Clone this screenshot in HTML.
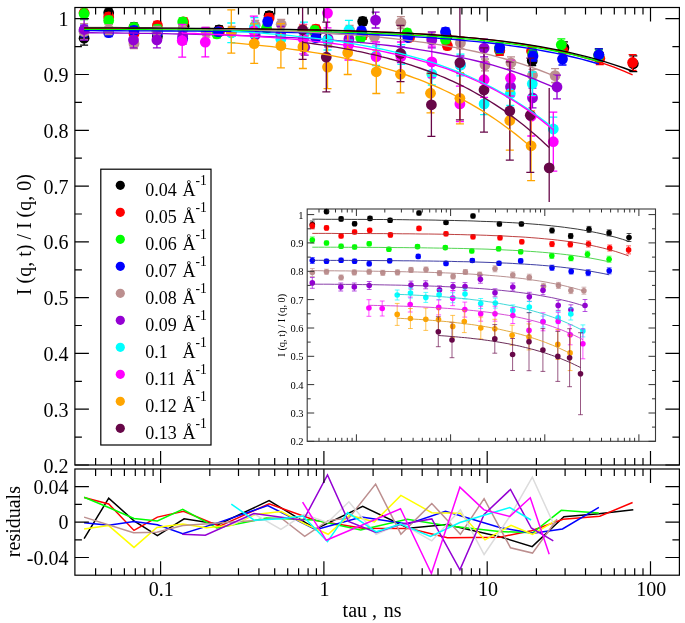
<!DOCTYPE html>
<html><head><meta charset="utf-8"><style>html,body{margin:0;padding:0;background:#fff;}svg{display:block;will-change:transform;filter:blur(0.3px);}text{font-family:"Liberation Serif",serif;-webkit-font-smoothing:antialiased;}</style></head>
<body><svg width="685" height="623" viewBox="0 0 685 623"><rect width="685" height="623" fill="#fff"/><clipPath id="mc"><rect x="74.9" y="7.5" width="604.5" height="457.5"/></clipPath><clipPath id="ic"><rect x="307.2" y="209.0" width="348.3" height="232.3"/></clipPath><g><path clip-path="url(#mc)" d="M84.1 31.3V45.1M80.1 31.3h8.0M80.1 45.1h8.0" stroke="#000000" stroke-width="1.3" fill="none"/><circle cx="84.1" cy="38.2" r="5.4" fill="#000000"/><path clip-path="url(#mc)" d="M108.7 8.9V16.7M104.7 8.9h8.0M104.7 16.7h8.0" stroke="#000000" stroke-width="1.3" fill="none"/><circle cx="108.7" cy="12.8" r="5.4" fill="#000000"/><path clip-path="url(#mc)" d="M134.0 23.2V31.1M130.0 23.2h8.0M130.0 31.1h8.0" stroke="#000000" stroke-width="1.3" fill="none"/><circle cx="134.0" cy="27.2" r="5.4" fill="#000000"/><path clip-path="url(#mc)" d="M157.4 32.7V40.6M153.4 32.7h8.0M153.4 40.6h8.0" stroke="#000000" stroke-width="1.3" fill="none"/><circle cx="157.4" cy="36.6" r="5.4" fill="#000000"/><path clip-path="url(#mc)" d="M184.1 22.2V30.1M180.1 22.2h8.0M180.1 30.1h8.0" stroke="#000000" stroke-width="1.3" fill="none"/><circle cx="184.1" cy="26.2" r="5.4" fill="#000000"/><path clip-path="url(#mc)" d="M219.0 26.0V33.9M215.0 26.0h8.0M215.0 33.9h8.0" stroke="#000000" stroke-width="1.3" fill="none"/><circle cx="219.0" cy="29.9" r="5.4" fill="#000000"/><path clip-path="url(#mc)" d="M269.1 11.6V19.5M265.1 11.6h8.0M265.1 19.5h8.0" stroke="#000000" stroke-width="1.3" fill="none"/><circle cx="269.1" cy="15.6" r="5.4" fill="#000000"/><path clip-path="url(#mc)" d="M315.9 30.3V38.2M311.9 30.3h8.0M311.9 38.2h8.0" stroke="#000000" stroke-width="1.3" fill="none"/><circle cx="315.9" cy="34.3" r="5.4" fill="#000000"/><path clip-path="url(#mc)" d="M362.7 17.5V25.4M358.7 17.5h8.0M358.7 25.4h8.0" stroke="#000000" stroke-width="1.3" fill="none"/><circle cx="362.7" cy="21.5" r="5.4" fill="#000000"/><path clip-path="url(#mc)" d="M408.5 33.3V41.1M404.5 33.3h8.0M404.5 41.1h8.0" stroke="#000000" stroke-width="1.3" fill="none"/><circle cx="408.5" cy="37.2" r="5.4" fill="#000000"/><path clip-path="url(#mc)" d="M446.7 33.3V41.1M442.7 33.3h8.0M442.7 41.1h8.0" stroke="#000000" stroke-width="1.3" fill="none"/><circle cx="446.7" cy="37.2" r="5.4" fill="#000000"/><path clip-path="url(#mc)" d="M499.7 45.1V54.9M495.7 45.1h8.0M495.7 54.9h8.0" stroke="#000000" stroke-width="1.3" fill="none"/><circle cx="499.7" cy="50.0" r="5.4" fill="#000000"/><path clip-path="url(#mc)" d="M532.2 55.9V65.7M528.2 55.9h8.0M528.2 65.7h8.0" stroke="#000000" stroke-width="1.3" fill="none"/><circle cx="532.2" cy="60.8" r="5.4" fill="#000000"/><path clip-path="url(#mc)" d="M563.9 41.9V53.7M559.9 41.9h8.0M559.9 53.7h8.0" stroke="#000000" stroke-width="1.3" fill="none"/><circle cx="563.9" cy="47.8" r="5.4" fill="#000000"/><path clip-path="url(#mc)" d="M598.8 48.8V60.6M594.8 48.8h8.0M594.8 60.6h8.0" stroke="#000000" stroke-width="1.3" fill="none"/><circle cx="598.8" cy="54.7" r="5.4" fill="#000000"/><path clip-path="url(#mc)" d="M633.3 55.9V71.7M629.3 55.9h8.0M629.3 71.7h8.0" stroke="#000000" stroke-width="1.3" fill="none"/><circle cx="633.3" cy="63.8" r="5.4" fill="#000000"/><path clip-path="url(#mc)" d="M84.1 6.8V18.7M80.1 6.8h8.0M80.1 18.7h8.0" stroke="#ff0000" stroke-width="1.3" fill="none"/><circle cx="84.1" cy="12.8" r="5.4" fill="#ff0000"/><path clip-path="url(#mc)" d="M108.7 13.0V20.8M104.7 13.0h8.0M104.7 20.8h8.0" stroke="#ff0000" stroke-width="1.3" fill="none"/><circle cx="108.7" cy="16.9" r="5.4" fill="#ff0000"/><path clip-path="url(#mc)" d="M134.0 29.7V37.6M130.0 29.7h8.0M130.0 37.6h8.0" stroke="#ff0000" stroke-width="1.3" fill="none"/><circle cx="134.0" cy="33.7" r="5.4" fill="#ff0000"/><path clip-path="url(#mc)" d="M157.4 21.5V29.3M153.4 21.5h8.0M153.4 29.3h8.0" stroke="#ff0000" stroke-width="1.3" fill="none"/><circle cx="157.4" cy="25.4" r="5.4" fill="#ff0000"/><path clip-path="url(#mc)" d="M183.6 17.9V25.8M179.6 17.9h8.0M179.6 25.8h8.0" stroke="#ff0000" stroke-width="1.3" fill="none"/><circle cx="183.6" cy="21.9" r="5.4" fill="#ff0000"/><path clip-path="url(#mc)" d="M219.5 27.5V35.3M215.5 27.5h8.0M215.5 35.3h8.0" stroke="#ff0000" stroke-width="1.3" fill="none"/><circle cx="219.5" cy="31.4" r="5.4" fill="#ff0000"/><path clip-path="url(#mc)" d="M269.1 14.0V21.9M265.1 14.0h8.0M265.1 21.9h8.0" stroke="#ff0000" stroke-width="1.3" fill="none"/><circle cx="269.1" cy="17.9" r="5.4" fill="#ff0000"/><path clip-path="url(#mc)" d="M315.9 25.2V33.1M311.9 25.2h8.0M311.9 33.1h8.0" stroke="#ff0000" stroke-width="1.3" fill="none"/><circle cx="315.9" cy="29.1" r="5.4" fill="#ff0000"/><path clip-path="url(#mc)" d="M362.7 31.4V39.3M358.7 31.4h8.0M358.7 39.3h8.0" stroke="#ff0000" stroke-width="1.3" fill="none"/><circle cx="362.7" cy="35.3" r="5.4" fill="#ff0000"/><path clip-path="url(#mc)" d="M409.6 33.5V41.3M405.6 33.5h8.0M405.6 41.3h8.0" stroke="#ff0000" stroke-width="1.3" fill="none"/><circle cx="409.6" cy="37.4" r="5.4" fill="#ff0000"/><path clip-path="url(#mc)" d="M447.4 41.8V49.6M443.4 41.8h8.0M443.4 49.6h8.0" stroke="#ff0000" stroke-width="1.3" fill="none"/><circle cx="447.4" cy="45.7" r="5.4" fill="#ff0000"/><path clip-path="url(#mc)" d="M499.7 45.5V55.4M495.7 45.5h8.0M495.7 55.4h8.0" stroke="#ff0000" stroke-width="1.3" fill="none"/><circle cx="499.7" cy="50.5" r="5.4" fill="#ff0000"/><path clip-path="url(#mc)" d="M531.5 46.2V56.0M527.5 46.2h8.0M527.5 56.0h8.0" stroke="#ff0000" stroke-width="1.3" fill="none"/><circle cx="531.5" cy="51.1" r="5.4" fill="#ff0000"/><path clip-path="url(#mc)" d="M563.0 44.4V56.2M559.0 44.4h8.0M559.0 56.2h8.0" stroke="#ff0000" stroke-width="1.3" fill="none"/><circle cx="563.0" cy="50.3" r="5.4" fill="#ff0000"/><path clip-path="url(#mc)" d="M599.8 52.6V64.5M595.8 52.6h8.0M595.8 64.5h8.0" stroke="#ff0000" stroke-width="1.3" fill="none"/><circle cx="599.8" cy="58.5" r="5.4" fill="#ff0000"/><path clip-path="url(#mc)" d="M632.6 54.6V70.4M628.6 54.6h8.0M628.6 70.4h8.0" stroke="#ff0000" stroke-width="1.3" fill="none"/><circle cx="632.6" cy="62.5" r="5.4" fill="#ff0000"/><path clip-path="url(#mc)" d="M84.1 7.9V19.7M80.1 7.9h8.0M80.1 19.7h8.0" stroke="#00ff00" stroke-width="1.3" fill="none"/><circle cx="84.1" cy="13.8" r="5.4" fill="#00ff00"/><path clip-path="url(#mc)" d="M108.7 16.4V24.3M104.7 16.4h8.0M104.7 24.3h8.0" stroke="#00ff00" stroke-width="1.3" fill="none"/><circle cx="108.7" cy="20.4" r="5.4" fill="#00ff00"/><path clip-path="url(#mc)" d="M134.0 23.4V31.3M130.0 23.4h8.0M130.0 31.3h8.0" stroke="#00ff00" stroke-width="1.3" fill="none"/><circle cx="134.0" cy="27.4" r="5.4" fill="#00ff00"/><path clip-path="url(#mc)" d="M157.4 25.2V33.0M153.4 25.2h8.0M153.4 33.0h8.0" stroke="#00ff00" stroke-width="1.3" fill="none"/><circle cx="157.4" cy="29.1" r="5.4" fill="#00ff00"/><path clip-path="url(#mc)" d="M182.7 18.0V25.8M178.7 18.0h8.0M178.7 25.8h8.0" stroke="#00ff00" stroke-width="1.3" fill="none"/><circle cx="182.7" cy="21.9" r="5.4" fill="#00ff00"/><path clip-path="url(#mc)" d="M216.9 30.0V37.8M212.9 30.0h8.0M212.9 37.8h8.0" stroke="#00ff00" stroke-width="1.3" fill="none"/><circle cx="216.9" cy="33.9" r="5.4" fill="#00ff00"/><path clip-path="url(#mc)" d="M266.5 24.3V32.2M262.5 24.3h8.0M262.5 32.2h8.0" stroke="#00ff00" stroke-width="1.3" fill="none"/><circle cx="266.5" cy="28.2" r="5.4" fill="#00ff00"/><path clip-path="url(#mc)" d="M314.7 26.5V34.3M310.7 26.5h8.0M310.7 34.3h8.0" stroke="#00ff00" stroke-width="1.3" fill="none"/><circle cx="314.7" cy="30.4" r="5.4" fill="#00ff00"/><path clip-path="url(#mc)" d="M360.7 33.9V41.8M356.7 33.9h8.0M356.7 41.8h8.0" stroke="#00ff00" stroke-width="1.3" fill="none"/><circle cx="360.7" cy="37.8" r="5.4" fill="#00ff00"/><path clip-path="url(#mc)" d="M407.1 29.1V37.0M403.1 29.1h8.0M403.1 37.0h8.0" stroke="#00ff00" stroke-width="1.3" fill="none"/><circle cx="407.1" cy="33.0" r="5.4" fill="#00ff00"/><path clip-path="url(#mc)" d="M445.5 35.4V43.3M441.5 35.4h8.0M441.5 43.3h8.0" stroke="#00ff00" stroke-width="1.3" fill="none"/><circle cx="445.5" cy="39.4" r="5.4" fill="#00ff00"/><path clip-path="url(#mc)" d="M499.4 43.4V53.2M495.4 43.4h8.0M495.4 53.2h8.0" stroke="#00ff00" stroke-width="1.3" fill="none"/><circle cx="499.4" cy="48.3" r="5.4" fill="#00ff00"/><path clip-path="url(#mc)" d="M532.7 48.8V58.7M528.7 48.8h8.0M528.7 58.7h8.0" stroke="#00ff00" stroke-width="1.3" fill="none"/><circle cx="532.7" cy="53.7" r="5.4" fill="#00ff00"/><path clip-path="url(#mc)" d="M561.3 38.9V50.7M557.3 38.9h8.0M557.3 50.7h8.0" stroke="#00ff00" stroke-width="1.3" fill="none"/><circle cx="561.3" cy="44.8" r="5.4" fill="#00ff00"/><path clip-path="url(#mc)" d="M598.8 49.8V61.6M594.8 49.8h8.0M594.8 61.6h8.0" stroke="#00ff00" stroke-width="1.3" fill="none"/><circle cx="598.8" cy="55.7" r="5.4" fill="#00ff00"/><path clip-path="url(#mc)" d="M84.1 25.1V36.9M80.1 25.1h8.0M80.1 36.9h8.0" stroke="#0000ff" stroke-width="1.3" fill="none"/><circle cx="84.1" cy="31.0" r="5.4" fill="#0000ff"/><path clip-path="url(#mc)" d="M108.7 28.7V36.6M104.7 28.7h8.0M104.7 36.6h8.0" stroke="#0000ff" stroke-width="1.3" fill="none"/><circle cx="108.7" cy="32.7" r="5.4" fill="#0000ff"/><path clip-path="url(#mc)" d="M134.0 26.4V34.3M130.0 26.4h8.0M130.0 34.3h8.0" stroke="#0000ff" stroke-width="1.3" fill="none"/><circle cx="134.0" cy="30.4" r="5.4" fill="#0000ff"/><path clip-path="url(#mc)" d="M157.4 28.7V36.6M153.4 28.7h8.0M153.4 36.6h8.0" stroke="#0000ff" stroke-width="1.3" fill="none"/><circle cx="157.4" cy="32.7" r="5.4" fill="#0000ff"/><path clip-path="url(#mc)" d="M182.7 34.5V42.3M178.7 34.5h8.0M178.7 42.3h8.0" stroke="#0000ff" stroke-width="1.3" fill="none"/><circle cx="182.7" cy="38.4" r="5.4" fill="#0000ff"/><path clip-path="url(#mc)" d="M218.3 27.8V35.7M214.3 27.8h8.0M214.3 35.7h8.0" stroke="#0000ff" stroke-width="1.3" fill="none"/><circle cx="218.3" cy="31.7" r="5.4" fill="#0000ff"/><path clip-path="url(#mc)" d="M267.7 17.7V25.6M263.7 17.7h8.0M263.7 25.6h8.0" stroke="#0000ff" stroke-width="1.3" fill="none"/><circle cx="267.7" cy="21.6" r="5.4" fill="#0000ff"/><path clip-path="url(#mc)" d="M315.9 33.8V41.6M311.9 33.8h8.0M311.9 41.6h8.0" stroke="#0000ff" stroke-width="1.3" fill="none"/><circle cx="315.9" cy="37.7" r="5.4" fill="#0000ff"/><path clip-path="url(#mc)" d="M361.5 27.1V35.0M357.5 27.1h8.0M357.5 35.0h8.0" stroke="#0000ff" stroke-width="1.3" fill="none"/><circle cx="361.5" cy="31.0" r="5.4" fill="#0000ff"/><path clip-path="url(#mc)" d="M407.8 33.5V41.4M403.8 33.5h8.0M403.8 41.4h8.0" stroke="#0000ff" stroke-width="1.3" fill="none"/><circle cx="407.8" cy="37.5" r="5.4" fill="#0000ff"/><path clip-path="url(#mc)" d="M445.5 28.0V35.9M441.5 28.0h8.0M441.5 35.9h8.0" stroke="#0000ff" stroke-width="1.3" fill="none"/><circle cx="445.5" cy="32.0" r="5.4" fill="#0000ff"/><path clip-path="url(#mc)" d="M499.7 42.7V52.5M495.7 42.7h8.0M495.7 52.5h8.0" stroke="#0000ff" stroke-width="1.3" fill="none"/><circle cx="499.7" cy="47.6" r="5.4" fill="#0000ff"/><path clip-path="url(#mc)" d="M533.0 51.2V61.0M529.0 51.2h8.0M529.0 61.0h8.0" stroke="#0000ff" stroke-width="1.3" fill="none"/><circle cx="533.0" cy="56.1" r="5.4" fill="#0000ff"/><path clip-path="url(#mc)" d="M562.5 53.2V65.0M558.5 53.2h8.0M558.5 65.0h8.0" stroke="#0000ff" stroke-width="1.3" fill="none"/><circle cx="562.5" cy="59.1" r="5.4" fill="#0000ff"/><path clip-path="url(#mc)" d="M598.9 48.8V60.6M594.9 48.8h8.0M594.9 60.6h8.0" stroke="#0000ff" stroke-width="1.3" fill="none"/><circle cx="598.9" cy="54.7" r="5.4" fill="#0000ff"/><path clip-path="url(#mc)" d="M84.1 23.7V39.5M80.1 23.7h8.0M80.1 39.5h8.0" stroke="#bc8f8f" stroke-width="1.3" fill="none"/><circle cx="84.1" cy="31.6" r="5.4" fill="#bc8f8f"/><path clip-path="url(#mc)" d="M108.7 24.7V34.6M104.7 24.7h8.0M104.7 34.6h8.0" stroke="#bc8f8f" stroke-width="1.3" fill="none"/><circle cx="108.7" cy="29.6" r="5.4" fill="#bc8f8f"/><path clip-path="url(#mc)" d="M134.0 38.7V48.6M130.0 38.7h8.0M130.0 48.6h8.0" stroke="#bc8f8f" stroke-width="1.3" fill="none"/><circle cx="134.0" cy="43.7" r="5.4" fill="#bc8f8f"/><path clip-path="url(#mc)" d="M156.9 26.4V36.3M152.9 26.4h8.0M152.9 36.3h8.0" stroke="#bc8f8f" stroke-width="1.3" fill="none"/><circle cx="156.9" cy="31.3" r="5.4" fill="#bc8f8f"/><path clip-path="url(#mc)" d="M182.7 24.7V34.6M178.7 24.7h8.0M178.7 34.6h8.0" stroke="#bc8f8f" stroke-width="1.3" fill="none"/><circle cx="182.7" cy="29.6" r="5.4" fill="#bc8f8f"/><path clip-path="url(#mc)" d="M206.3 27.4V37.2M202.3 27.4h8.0M202.3 37.2h8.0" stroke="#bc8f8f" stroke-width="1.3" fill="none"/><circle cx="206.3" cy="32.3" r="5.4" fill="#bc8f8f"/><path clip-path="url(#mc)" d="M231.8 26.4V36.3M227.8 26.4h8.0M227.8 36.3h8.0" stroke="#bc8f8f" stroke-width="1.3" fill="none"/><circle cx="231.8" cy="31.3" r="5.4" fill="#bc8f8f"/><path clip-path="url(#mc)" d="M255.2 20.4V30.2M251.2 20.4h8.0M251.2 30.2h8.0" stroke="#bc8f8f" stroke-width="1.3" fill="none"/><circle cx="255.2" cy="25.3" r="5.4" fill="#bc8f8f"/><path clip-path="url(#mc)" d="M281.2 19.4V29.3M277.2 19.4h8.0M277.2 29.3h8.0" stroke="#bc8f8f" stroke-width="1.3" fill="none"/><circle cx="281.2" cy="24.3" r="5.4" fill="#bc8f8f"/><path clip-path="url(#mc)" d="M304.7 28.1V38.0M300.7 28.1h8.0M300.7 38.0h8.0" stroke="#bc8f8f" stroke-width="1.3" fill="none"/><circle cx="304.7" cy="33.0" r="5.4" fill="#bc8f8f"/><path clip-path="url(#mc)" d="M328.2 36.1V45.9M324.2 36.1h8.0M324.2 45.9h8.0" stroke="#bc8f8f" stroke-width="1.3" fill="none"/><circle cx="328.2" cy="41.0" r="5.4" fill="#bc8f8f"/><path clip-path="url(#mc)" d="M349.6 25.5V35.3M345.6 25.5h8.0M345.6 35.3h8.0" stroke="#bc8f8f" stroke-width="1.3" fill="none"/><circle cx="349.6" cy="30.4" r="5.4" fill="#bc8f8f"/><path clip-path="url(#mc)" d="M374.4 31.7V41.6M370.4 31.7h8.0M370.4 41.6h8.0" stroke="#bc8f8f" stroke-width="1.3" fill="none"/><circle cx="374.4" cy="36.7" r="5.4" fill="#bc8f8f"/><path clip-path="url(#mc)" d="M400.9 16.7V28.5M396.9 16.7h8.0M396.9 28.5h8.0" stroke="#bc8f8f" stroke-width="1.3" fill="none"/><circle cx="400.9" cy="22.6" r="5.4" fill="#bc8f8f"/><path clip-path="url(#mc)" d="M431.8 31.7V43.5M427.8 31.7h8.0M427.8 43.5h8.0" stroke="#bc8f8f" stroke-width="1.3" fill="none"/><circle cx="431.8" cy="37.6" r="5.4" fill="#bc8f8f"/><path clip-path="url(#mc)" d="M460.4 37.0V48.8M456.4 37.0h8.0M456.4 48.8h8.0" stroke="#bc8f8f" stroke-width="1.3" fill="none"/><circle cx="460.4" cy="42.9" r="5.4" fill="#bc8f8f"/><path clip-path="url(#mc)" d="M485.0 59.0V70.8M481.0 59.0h8.0M481.0 70.8h8.0" stroke="#bc8f8f" stroke-width="1.3" fill="none"/><circle cx="485.0" cy="64.9" r="5.4" fill="#bc8f8f"/><path clip-path="url(#mc)" d="M511.0 56.9V68.7M507.0 56.9h8.0M507.0 68.7h8.0" stroke="#bc8f8f" stroke-width="1.3" fill="none"/><circle cx="511.0" cy="62.8" r="5.4" fill="#bc8f8f"/><path clip-path="url(#mc)" d="M532.5 69.4V81.2M528.5 69.4h8.0M528.5 81.2h8.0" stroke="#bc8f8f" stroke-width="1.3" fill="none"/><circle cx="532.5" cy="75.3" r="5.4" fill="#bc8f8f"/><path clip-path="url(#mc)" d="M555.1 68.7V82.5M551.1 68.7h8.0M551.1 82.5h8.0" stroke="#bc8f8f" stroke-width="1.3" fill="none"/><circle cx="555.1" cy="75.6" r="5.4" fill="#bc8f8f"/><path clip-path="url(#mc)" d="M84.1 18.9V40.1M80.1 18.9h8.0M80.1 40.1h8.0" stroke="#9400d3" stroke-width="1.3" fill="none"/><circle cx="84.1" cy="29.5" r="5.4" fill="#9400d3"/><path clip-path="url(#mc)" d="M133.5 32.1V47.8M129.5 32.1h8.0M129.5 47.8h8.0" stroke="#9400d3" stroke-width="1.3" fill="none"/><circle cx="133.5" cy="39.9" r="5.4" fill="#9400d3"/><path clip-path="url(#mc)" d="M156.9 32.1V47.8M152.9 32.1h8.0M152.9 47.8h8.0" stroke="#9400d3" stroke-width="1.3" fill="none"/><circle cx="156.9" cy="39.9" r="5.4" fill="#9400d3"/><path clip-path="url(#mc)" d="M182.7 28.3V44.0M178.7 28.3h8.0M178.7 44.0h8.0" stroke="#9400d3" stroke-width="1.3" fill="none"/><circle cx="182.7" cy="36.1" r="5.4" fill="#9400d3"/><path clip-path="url(#mc)" d="M255.2 27.2V43.0M251.2 27.2h8.0M251.2 43.0h8.0" stroke="#9400d3" stroke-width="1.3" fill="none"/><circle cx="255.2" cy="35.1" r="5.4" fill="#9400d3"/><path clip-path="url(#mc)" d="M280.7 26.5V42.2M276.7 26.5h8.0M276.7 42.2h8.0" stroke="#9400d3" stroke-width="1.3" fill="none"/><circle cx="280.7" cy="34.3" r="5.4" fill="#9400d3"/><path clip-path="url(#mc)" d="M304.7 39.4V55.2M300.7 39.4h8.0M300.7 55.2h8.0" stroke="#9400d3" stroke-width="1.3" fill="none"/><circle cx="304.7" cy="47.3" r="5.4" fill="#9400d3"/><path clip-path="url(#mc)" d="M328.1 31.0V46.8M324.1 31.0h8.0M324.1 46.8h8.0" stroke="#9400d3" stroke-width="1.3" fill="none"/><circle cx="328.1" cy="38.9" r="5.4" fill="#9400d3"/><path clip-path="url(#mc)" d="M348.9 31.0V46.8M344.9 31.0h8.0M344.9 46.8h8.0" stroke="#9400d3" stroke-width="1.3" fill="none"/><circle cx="348.9" cy="38.9" r="5.4" fill="#9400d3"/><path clip-path="url(#mc)" d="M375.6 12.2V28.0M371.6 12.2h8.0M371.6 28.0h8.0" stroke="#9400d3" stroke-width="1.3" fill="none"/><circle cx="375.6" cy="20.1" r="5.4" fill="#9400d3"/><path clip-path="url(#mc)" d="M400.9 46.8V62.6M396.9 46.8h8.0M396.9 62.6h8.0" stroke="#9400d3" stroke-width="1.3" fill="none"/><circle cx="400.9" cy="54.7" r="5.4" fill="#9400d3"/><path clip-path="url(#mc)" d="M431.8 32.1V47.8M427.8 32.1h8.0M427.8 47.8h8.0" stroke="#9400d3" stroke-width="1.3" fill="none"/><circle cx="431.8" cy="39.9" r="5.4" fill="#9400d3"/><path clip-path="url(#mc)" d="M460.4 56.0V73.7M456.4 56.0h8.0M456.4 73.7h8.0" stroke="#9400d3" stroke-width="1.3" fill="none"/><circle cx="460.4" cy="64.9" r="5.4" fill="#9400d3"/><path clip-path="url(#mc)" d="M484.1 39.2V56.9M480.1 39.2h8.0M480.1 56.9h8.0" stroke="#9400d3" stroke-width="1.3" fill="none"/><circle cx="484.1" cy="48.1" r="5.4" fill="#9400d3"/><path clip-path="url(#mc)" d="M510.5 76.9V96.6M506.5 76.9h8.0M506.5 96.6h8.0" stroke="#9400d3" stroke-width="1.3" fill="none"/><circle cx="510.5" cy="86.7" r="5.4" fill="#9400d3"/><path clip-path="url(#mc)" d="M532.5 88.1V107.8M528.5 88.1h8.0M528.5 107.8h8.0" stroke="#9400d3" stroke-width="1.3" fill="none"/><circle cx="532.5" cy="97.9" r="5.4" fill="#9400d3"/><path clip-path="url(#mc)" d="M557.0 75.2V98.8M553.0 75.2h8.0M553.0 98.8h8.0" stroke="#9400d3" stroke-width="1.3" fill="none"/><circle cx="557.0" cy="87.0" r="5.4" fill="#9400d3"/><path clip-path="url(#mc)" d="M231.3 23.0V42.7M227.3 23.0h8.0M227.3 42.7h8.0" stroke="#00ffff" stroke-width="1.3" fill="none"/><circle cx="231.3" cy="32.9" r="5.4" fill="#00ffff"/><path clip-path="url(#mc)" d="M254.4 17.7V37.4M250.4 17.7h8.0M250.4 37.4h8.0" stroke="#00ffff" stroke-width="1.3" fill="none"/><circle cx="254.4" cy="27.5" r="5.4" fill="#00ffff"/><path clip-path="url(#mc)" d="M280.9 29.5V49.2M276.9 29.5h8.0M276.9 49.2h8.0" stroke="#00ffff" stroke-width="1.3" fill="none"/><circle cx="280.9" cy="39.3" r="5.4" fill="#00ffff"/><path clip-path="url(#mc)" d="M304.0 22.2V41.9M300.0 22.2h8.0M300.0 41.9h8.0" stroke="#00ffff" stroke-width="1.3" fill="none"/><circle cx="304.0" cy="32.1" r="5.4" fill="#00ffff"/><path clip-path="url(#mc)" d="M327.5 30.3V50.0M323.5 30.3h8.0M323.5 50.0h8.0" stroke="#00ffff" stroke-width="1.3" fill="none"/><circle cx="327.5" cy="40.1" r="5.4" fill="#00ffff"/><path clip-path="url(#mc)" d="M348.9 20.4V40.1M344.9 20.4h8.0M344.9 40.1h8.0" stroke="#00ffff" stroke-width="1.3" fill="none"/><circle cx="348.9" cy="30.2" r="5.4" fill="#00ffff"/><path clip-path="url(#mc)" d="M376.1 45.8V65.5M372.1 45.8h8.0M372.1 65.5h8.0" stroke="#00ffff" stroke-width="1.3" fill="none"/><circle cx="376.1" cy="55.7" r="5.4" fill="#00ffff"/><path clip-path="url(#mc)" d="M401.4 44.7V64.4M397.4 44.7h8.0M397.4 64.4h8.0" stroke="#00ffff" stroke-width="1.3" fill="none"/><circle cx="401.4" cy="54.6" r="5.4" fill="#00ffff"/><path clip-path="url(#mc)" d="M431.8 63.3V85.0M427.8 63.3h8.0M427.8 85.0h8.0" stroke="#00ffff" stroke-width="1.3" fill="none"/><circle cx="431.8" cy="74.1" r="5.4" fill="#00ffff"/><path clip-path="url(#mc)" d="M460.4 54.2V75.9M456.4 54.2h8.0M456.4 75.9h8.0" stroke="#00ffff" stroke-width="1.3" fill="none"/><circle cx="460.4" cy="65.0" r="5.4" fill="#00ffff"/><path clip-path="url(#mc)" d="M484.1 93.0V114.7M480.1 93.0h8.0M480.1 114.7h8.0" stroke="#00ffff" stroke-width="1.3" fill="none"/><circle cx="484.1" cy="103.9" r="5.4" fill="#00ffff"/><path clip-path="url(#mc)" d="M510.3 81.9V105.5M506.3 81.9h8.0M506.3 105.5h8.0" stroke="#00ffff" stroke-width="1.3" fill="none"/><circle cx="510.3" cy="93.7" r="5.4" fill="#00ffff"/><path clip-path="url(#mc)" d="M532.3 72.0V95.6M528.3 72.0h8.0M528.3 95.6h8.0" stroke="#00ffff" stroke-width="1.3" fill="none"/><circle cx="532.3" cy="83.8" r="5.4" fill="#00ffff"/><path clip-path="url(#mc)" d="M553.3 117.2V140.9M549.3 117.2h8.0M549.3 140.9h8.0" stroke="#00ffff" stroke-width="1.3" fill="none"/><circle cx="553.3" cy="129.0" r="5.4" fill="#00ffff"/><path clip-path="url(#mc)" d="M182.2 24.4V57.1M178.2 24.4h8.0M178.2 57.1h8.0" stroke="#ff00ff" stroke-width="1.3" fill="none"/><circle cx="182.2" cy="40.7" r="5.4" fill="#ff00ff"/><path clip-path="url(#mc)" d="M205.3 27.4V56.9M201.3 27.4h8.0M201.3 56.9h8.0" stroke="#ff00ff" stroke-width="1.3" fill="none"/><circle cx="205.3" cy="42.1" r="5.4" fill="#ff00ff"/><path clip-path="url(#mc)" d="M253.8 16.1V45.6M249.8 16.1h8.0M249.8 45.6h8.0" stroke="#ff00ff" stroke-width="1.3" fill="none"/><circle cx="253.8" cy="30.9" r="5.4" fill="#ff00ff"/><path clip-path="url(#mc)" d="M303.3 24.3V53.8M299.3 24.3h8.0M299.3 53.8h8.0" stroke="#ff00ff" stroke-width="1.3" fill="none"/><circle cx="303.3" cy="39.0" r="5.4" fill="#ff00ff"/><path clip-path="url(#mc)" d="M327.5 -1.7V27.9M323.5 -1.7h8.0M323.5 27.9h8.0" stroke="#ff00ff" stroke-width="1.3" fill="none"/><circle cx="327.5" cy="13.1" r="5.4" fill="#ff00ff"/><path clip-path="url(#mc)" d="M348.5 30.5V60.0M344.5 30.5h8.0M344.5 60.0h8.0" stroke="#ff00ff" stroke-width="1.3" fill="none"/><circle cx="348.5" cy="45.2" r="5.4" fill="#ff00ff"/><path clip-path="url(#mc)" d="M376.1 42.0V71.6M372.1 42.0h8.0M372.1 71.6h8.0" stroke="#ff00ff" stroke-width="1.3" fill="none"/><circle cx="376.1" cy="56.8" r="5.4" fill="#ff00ff"/><path clip-path="url(#mc)" d="M400.9 42.0V71.6M396.9 42.0h8.0M396.9 71.6h8.0" stroke="#ff00ff" stroke-width="1.3" fill="none"/><circle cx="400.9" cy="56.8" r="5.4" fill="#ff00ff"/><path clip-path="url(#mc)" d="M431.8 46.1V77.6M427.8 46.1h8.0M427.8 77.6h8.0" stroke="#ff00ff" stroke-width="1.3" fill="none"/><circle cx="431.8" cy="61.9" r="5.4" fill="#ff00ff"/><path clip-path="url(#mc)" d="M459.9 86.2V121.6M455.9 86.2h8.0M455.9 121.6h8.0" stroke="#ff00ff" stroke-width="1.3" fill="none"/><circle cx="459.9" cy="103.9" r="5.4" fill="#ff00ff"/><path clip-path="url(#mc)" d="M484.1 61.9V97.4M480.1 61.9h8.0M480.1 97.4h8.0" stroke="#ff00ff" stroke-width="1.3" fill="none"/><circle cx="484.1" cy="79.7" r="5.4" fill="#ff00ff"/><path clip-path="url(#mc)" d="M510.5 60.5V96.0M506.5 60.5h8.0M506.5 96.0h8.0" stroke="#ff00ff" stroke-width="1.3" fill="none"/><circle cx="510.5" cy="78.2" r="5.4" fill="#ff00ff"/><path clip-path="url(#mc)" d="M531.3 96.6V136.0M527.3 96.6h8.0M527.3 136.0h8.0" stroke="#ff00ff" stroke-width="1.3" fill="none"/><circle cx="531.3" cy="116.3" r="5.4" fill="#ff00ff"/><path clip-path="url(#mc)" d="M553.3 112.2V171.2M549.3 112.2h8.0M549.3 171.2h8.0" stroke="#ff00ff" stroke-width="1.3" fill="none"/><circle cx="553.3" cy="141.7" r="5.4" fill="#ff00ff"/><path clip-path="url(#mc)" d="M231.3 9.8V53.1M227.3 9.8h8.0M227.3 53.1h8.0" stroke="#ffa500" stroke-width="1.3" fill="none"/><circle cx="231.3" cy="31.5" r="5.4" fill="#ffa500"/><path clip-path="url(#mc)" d="M254.2 23.9V63.3M250.2 23.9h8.0M250.2 63.3h8.0" stroke="#ffa500" stroke-width="1.3" fill="none"/><circle cx="254.2" cy="43.6" r="5.4" fill="#ffa500"/><path clip-path="url(#mc)" d="M280.9 23.7V67.8M276.9 23.7h8.0M276.9 67.8h8.0" stroke="#ffa500" stroke-width="1.3" fill="none"/><circle cx="280.9" cy="45.7" r="5.4" fill="#ffa500"/><path clip-path="url(#mc)" d="M302.9 25.2V68.5M298.9 25.2h8.0M298.9 68.5h8.0" stroke="#ffa500" stroke-width="1.3" fill="none"/><circle cx="302.9" cy="46.9" r="5.4" fill="#ffa500"/><path clip-path="url(#mc)" d="M327.5 45.4V88.7M323.5 45.4h8.0M323.5 88.7h8.0" stroke="#ffa500" stroke-width="1.3" fill="none"/><circle cx="327.5" cy="67.1" r="5.4" fill="#ffa500"/><path clip-path="url(#mc)" d="M347.7 31.2V74.5M343.7 31.2h8.0M343.7 74.5h8.0" stroke="#ffa500" stroke-width="1.3" fill="none"/><circle cx="347.7" cy="52.8" r="5.4" fill="#ffa500"/><path clip-path="url(#mc)" d="M376.3 50.2V93.5M372.3 50.2h8.0M372.3 93.5h8.0" stroke="#ffa500" stroke-width="1.3" fill="none"/><circle cx="376.3" cy="71.8" r="5.4" fill="#ffa500"/><path clip-path="url(#mc)" d="M400.5 55.5V92.9M396.5 55.5h8.0M396.5 92.9h8.0" stroke="#ffa500" stroke-width="1.3" fill="none"/><circle cx="400.5" cy="74.2" r="5.4" fill="#ffa500"/><path clip-path="url(#mc)" d="M430.5 73.5V112.9M426.5 73.5h8.0M426.5 112.9h8.0" stroke="#ffa500" stroke-width="1.3" fill="none"/><circle cx="430.5" cy="93.2" r="5.4" fill="#ffa500"/><path clip-path="url(#mc)" d="M459.9 72.7V123.8M455.9 72.7h8.0M455.9 123.8h8.0" stroke="#ffa500" stroke-width="1.3" fill="none"/><circle cx="459.9" cy="98.3" r="5.4" fill="#ffa500"/><path clip-path="url(#mc)" d="M509.8 91.0V150.1M505.8 91.0h8.0M505.8 150.1h8.0" stroke="#ffa500" stroke-width="1.3" fill="none"/><circle cx="509.8" cy="120.5" r="5.4" fill="#ffa500"/><path clip-path="url(#mc)" d="M531.1 110.9V180.6M527.1 110.9h8.0M527.1 180.6h8.0" stroke="#ffa500" stroke-width="1.3" fill="none"/><circle cx="531.1" cy="145.8" r="5.4" fill="#ffa500"/><path clip-path="url(#mc)" d="M302.6 0.3V59.3M298.6 0.3h8.0M298.6 59.3h8.0" stroke="#670748" stroke-width="1.3" fill="none"/><circle cx="302.6" cy="29.8" r="5.4" fill="#670748"/><path clip-path="url(#mc)" d="M326.3 22.2V91.9M322.3 22.2h8.0M322.3 91.9h8.0" stroke="#670748" stroke-width="1.3" fill="none"/><circle cx="326.3" cy="57.1" r="5.4" fill="#670748"/><path clip-path="url(#mc)" d="M400.5 25.3V81.6M396.5 25.3h8.0M396.5 81.6h8.0" stroke="#670748" stroke-width="1.3" fill="none"/><circle cx="400.5" cy="53.5" r="5.4" fill="#670748"/><path clip-path="url(#mc)" d="M431.4 73.3V136.3M427.4 73.3h8.0M427.4 136.3h8.0" stroke="#670748" stroke-width="1.3" fill="none"/><circle cx="431.4" cy="104.8" r="5.4" fill="#670748"/><path clip-path="url(#mc)" d="M459.9 5.6V119.8M455.9 5.6h8.0M455.9 119.8h8.0" stroke="#670748" stroke-width="1.3" fill="none"/><circle cx="459.9" cy="62.7" r="5.4" fill="#670748"/><path clip-path="url(#mc)" d="M484.0 47.8V132.1M480.0 47.8h8.0M480.0 132.1h8.0" stroke="#670748" stroke-width="1.3" fill="none"/><circle cx="484.0" cy="90.0" r="5.4" fill="#670748"/><path clip-path="url(#mc)" d="M509.8 61.8V160.2M505.8 61.8h8.0M505.8 160.2h8.0" stroke="#670748" stroke-width="1.3" fill="none"/><circle cx="509.8" cy="111.0" r="5.4" fill="#670748"/><path clip-path="url(#mc)" d="M530.3 58.2V172.4M526.3 58.2h8.0M526.3 172.4h8.0" stroke="#670748" stroke-width="1.3" fill="none"/><circle cx="530.3" cy="115.3" r="5.4" fill="#670748"/><path clip-path="url(#mc)" d="M549.2 87.9V201.9" stroke="#670748" stroke-width="1.3"/><circle cx="549.2" cy="167.9" r="5.4" fill="#670748"/></g><path d="M84.1 28.3 L93.4 28.3 L102.7 28.3 L112.0 28.4 L121.3 28.4 L130.6 28.4 L139.9 28.5 L149.1 28.5 L158.4 28.5 L167.7 28.6 L177.0 28.6 L186.3 28.7 L195.6 28.7 L204.9 28.8 L214.2 28.8 L223.5 28.9 L232.8 29.0 L242.1 29.1 L251.4 29.2 L260.7 29.3 L270.0 29.4 L279.3 29.5 L288.6 29.7 L297.9 29.8 L307.2 30.0 L316.5 30.2 L325.8 30.4 L335.1 30.6 L344.4 30.9 L353.7 31.1 L363.0 31.4 L372.3 31.7 L381.6 32.1 L390.9 32.5 L400.2 32.9 L409.5 33.4 L418.7 33.9 L428.0 34.4 L437.3 35.1 L446.6 35.7 L455.9 36.5 L465.2 37.3 L474.5 38.1 L483.8 39.1 L493.1 40.2 L502.4 41.3 L511.7 42.6 L521.0 44.0 L530.3 45.5 L539.6 47.1 L548.9 48.9 L558.2 50.9 L567.5 53.1 L576.8 55.4 L586.1 58.0 L595.4 60.8 L604.7 63.9 L614.0 67.2 L623.3 70.9 L632.6 74.8" stroke="#ff0000" stroke-width="1.35" fill="none"/><path d="M84.1 29.5 L92.8 29.5 L101.5 29.5 L110.2 29.6 L119.0 29.6 L127.7 29.6 L136.4 29.7 L145.1 29.7 L153.9 29.8 L162.6 29.8 L171.3 29.9 L180.0 29.9 L188.8 30.0 L197.5 30.0 L206.2 30.1 L214.9 30.2 L223.6 30.3 L232.4 30.3 L241.1 30.4 L249.8 30.5 L258.5 30.7 L267.3 30.8 L276.0 30.9 L284.7 31.1 L293.4 31.2 L302.2 31.4 L310.9 31.6 L319.6 31.8 L328.3 32.0 L337.1 32.2 L345.8 32.4 L354.5 32.7 L363.2 33.0 L371.9 33.3 L380.7 33.7 L389.4 34.0 L398.1 34.4 L406.8 34.9 L415.6 35.3 L424.3 35.8 L433.0 36.4 L441.7 37.0 L450.5 37.6 L459.2 38.3 L467.9 39.1 L476.6 39.9 L485.4 40.8 L494.1 41.8 L502.8 42.8 L511.5 43.9 L520.2 45.1 L529.0 46.4 L537.7 47.8 L546.4 49.4 L555.1 51.0 L563.9 52.8 L572.6 54.7 L581.3 56.8 L590.0 59.0 L598.8 61.4" stroke="#00ff00" stroke-width="1.35" fill="none"/><path d="M84.1 30.6 L92.8 30.7 L101.5 30.7 L110.3 30.7 L119.0 30.7 L127.7 30.8 L136.4 30.8 L145.2 30.9 L153.9 30.9 L162.6 31.0 L171.3 31.0 L180.1 31.1 L188.8 31.1 L197.5 31.2 L206.2 31.3 L215.0 31.4 L223.7 31.4 L232.4 31.5 L241.1 31.6 L249.9 31.7 L258.6 31.9 L267.3 32.0 L276.1 32.1 L284.8 32.3 L293.5 32.5 L302.2 32.6 L311.0 32.8 L319.7 33.0 L328.4 33.3 L337.1 33.5 L345.9 33.8 L354.6 34.0 L363.3 34.4 L372.0 34.7 L380.8 35.0 L389.5 35.4 L398.2 35.9 L406.9 36.3 L415.7 36.8 L424.4 37.3 L433.1 37.9 L441.9 38.6 L450.6 39.2 L459.3 40.0 L468.0 40.8 L476.8 41.6 L485.5 42.5 L494.2 43.5 L502.9 44.6 L511.7 45.8 L520.4 47.0 L529.1 48.4 L537.8 49.9 L546.6 51.5 L555.3 53.2 L564.0 55.0 L572.7 57.0 L581.5 59.2 L590.2 61.5 L598.9 64.0" stroke="#0000ff" stroke-width="1.35" fill="none"/><path d="M84.1 27.3 L92.1 27.3 L100.0 27.4 L108.0 27.5 L116.0 27.5 L124.0 27.6 L132.0 27.7 L140.0 27.8 L147.9 27.9 L155.9 28.0 L163.9 28.1 L171.9 28.2 L179.9 28.3 L187.8 28.4 L195.8 28.6 L203.8 28.7 L211.8 28.9 L219.8 29.1 L227.8 29.3 L235.7 29.5 L243.7 29.7 L251.7 29.9 L259.7 30.2 L267.7 30.5 L275.7 30.8 L283.6 31.1 L291.6 31.4 L299.6 31.8 L307.6 32.2 L315.6 32.6 L323.6 33.0 L331.5 33.5 L339.5 34.0 L347.5 34.6 L355.5 35.2 L363.5 35.8 L371.5 36.5 L379.4 37.2 L387.4 38.0 L395.4 38.9 L403.4 39.8 L411.4 40.8 L419.3 41.8 L427.3 42.9 L435.3 44.1 L443.3 45.4 L451.3 46.8 L459.3 48.2 L467.2 49.8 L475.2 51.5 L483.2 53.3 L491.2 55.2 L499.2 57.3 L507.2 59.5 L515.1 61.9 L523.1 64.4 L531.1 67.1 L539.1 70.0 L547.1 73.1 L555.1 76.4" stroke="#bc8f8f" stroke-width="1.35" fill="none"/><path d="M84.1 32.7 L92.1 32.7 L100.1 32.8 L108.1 32.9 L116.1 33.0 L124.1 33.1 L132.2 33.2 L140.2 33.3 L148.2 33.4 L156.2 33.5 L164.2 33.7 L172.2 33.8 L180.3 34.0 L188.3 34.1 L196.3 34.3 L204.3 34.5 L212.3 34.7 L220.3 34.9 L228.3 35.1 L236.4 35.4 L244.4 35.7 L252.4 35.9 L260.4 36.3 L268.4 36.6 L276.4 36.9 L284.5 37.3 L292.5 37.7 L300.5 38.2 L308.5 38.6 L316.5 39.1 L324.5 39.6 L332.5 40.2 L340.6 40.8 L348.6 41.5 L356.6 42.2 L364.6 42.9 L372.6 43.7 L380.6 44.6 L388.6 45.5 L396.7 46.5 L404.7 47.5 L412.7 48.7 L420.7 49.9 L428.7 51.2 L436.7 52.5 L444.8 54.0 L452.8 55.6 L460.8 57.3 L468.8 59.1 L476.8 61.0 L484.8 63.0 L492.8 65.2 L500.9 67.6 L508.9 70.0 L516.9 72.7 L524.9 75.5 L532.9 78.5 L540.9 81.8 L548.9 85.2 L557.0 88.8" stroke="#9400d3" stroke-width="1.35" fill="none"/><path d="M231.3 31.1 L236.8 31.5 L242.2 31.8 L247.7 32.2 L253.1 32.5 L258.6 32.9 L264.0 33.3 L269.5 33.8 L275.0 34.2 L280.4 34.7 L285.9 35.2 L291.3 35.7 L296.8 36.3 L302.3 36.8 L307.7 37.5 L313.2 38.1 L318.6 38.7 L324.1 39.4 L329.5 40.2 L335.0 40.9 L340.5 41.7 L345.9 42.6 L351.4 43.4 L356.8 44.4 L362.3 45.3 L367.7 46.3 L373.2 47.4 L378.7 48.5 L384.1 49.7 L389.6 50.9 L395.0 52.1 L400.5 53.5 L406.0 54.9 L411.4 56.3 L416.9 57.8 L422.3 59.4 L427.8 61.1 L433.2 62.9 L438.7 64.7 L444.2 66.6 L449.6 68.6 L455.1 70.7 L460.5 72.8 L466.0 75.1 L471.5 77.5 L476.9 80.0 L482.4 82.6 L487.8 85.3 L493.3 88.1 L498.7 91.1 L504.2 94.1 L509.7 97.3 L515.1 100.7 L520.6 104.2 L526.0 107.8 L531.5 111.6 L536.9 115.5 L542.4 119.6 L547.9 123.8 L553.3 128.2" stroke="#00ffff" stroke-width="1.35" fill="none"/><path d="M182.2 33.1 L188.5 33.3 L194.8 33.5 L201.1 33.8 L207.4 34.0 L213.7 34.3 L220.0 34.5 L226.3 34.8 L232.5 35.1 L238.8 35.5 L245.1 35.8 L251.4 36.2 L257.7 36.6 L264.0 37.0 L270.3 37.4 L276.6 37.9 L282.9 38.4 L289.2 38.9 L295.4 39.4 L301.7 40.0 L308.0 40.6 L314.3 41.3 L320.6 42.0 L326.9 42.7 L333.2 43.5 L339.5 44.3 L345.8 45.2 L352.0 46.1 L358.3 47.1 L364.6 48.2 L370.9 49.3 L377.2 50.4 L383.5 51.7 L389.8 53.0 L396.1 54.4 L402.4 55.8 L408.7 57.4 L414.9 59.0 L421.2 60.8 L427.5 62.6 L433.8 64.5 L440.1 66.6 L446.4 68.7 L452.7 71.0 L459.0 73.4 L465.3 76.0 L471.6 78.7 L477.8 81.5 L484.1 84.5 L490.4 87.6 L496.7 91.0 L503.0 94.5 L509.3 98.1 L515.6 102.0 L521.9 106.1 L528.2 110.4 L534.5 114.9 L540.7 119.6 L547.0 124.6 L553.3 129.8" stroke="#ff00ff" stroke-width="1.35" fill="none"/><path d="M231.3 42.8 L236.4 43.2 L241.5 43.7 L246.5 44.1 L251.6 44.6 L256.7 45.1 L261.8 45.6 L266.9 46.2 L272.0 46.7 L277.0 47.3 L282.1 47.9 L287.2 48.6 L292.3 49.3 L297.4 50.0 L302.4 50.7 L307.5 51.5 L312.6 52.3 L317.7 53.1 L322.8 54.0 L327.9 54.9 L332.9 55.8 L338.0 56.8 L343.1 57.8 L348.2 58.9 L353.3 60.0 L358.3 61.2 L363.4 62.4 L368.5 63.7 L373.6 65.0 L378.7 66.4 L383.8 67.8 L388.8 69.3 L393.9 70.9 L399.0 72.5 L404.1 74.2 L409.2 76.0 L414.2 77.8 L419.3 79.7 L424.4 81.7 L429.5 83.8 L434.6 85.9 L439.7 88.2 L444.7 90.5 L449.8 92.9 L454.9 95.5 L460.0 98.1 L465.1 100.8 L470.1 103.6 L475.2 106.6 L480.3 109.6 L485.4 112.8 L490.5 116.1 L495.6 119.5 L500.6 123.0 L505.7 126.7 L510.8 130.5 L515.9 134.4 L521.0 138.5 L526.0 142.7 L531.1 147.1" stroke="#ffa500" stroke-width="1.35" fill="none"/><path d="M302.6 42.3 L306.8 42.8 L310.9 43.4 L315.1 44.0 L319.3 44.6 L323.5 45.2 L327.6 45.8 L331.8 46.5 L336.0 47.2 L340.2 47.9 L344.4 48.7 L348.5 49.4 L352.7 50.2 L356.9 51.1 L361.1 51.9 L365.3 52.8 L369.4 53.8 L373.6 54.7 L377.8 55.7 L382.0 56.8 L386.2 57.8 L390.3 59.0 L394.5 60.1 L398.7 61.3 L402.9 62.6 L407.1 63.8 L411.2 65.2 L415.4 66.6 L419.6 68.0 L423.8 69.5 L428.0 71.0 L432.1 72.6 L436.3 74.2 L440.5 76.0 L444.7 77.7 L448.9 79.6 L453.0 81.4 L457.2 83.4 L461.4 85.4 L465.6 87.5 L469.7 89.7 L473.9 92.0 L478.1 94.3 L482.3 96.7 L486.5 99.2 L490.6 101.7 L494.8 104.4 L499.0 107.1 L503.2 109.9 L507.4 112.9 L511.5 115.9 L515.7 119.0 L519.9 122.2 L524.1 125.5 L528.3 128.9 L532.4 132.5 L536.6 136.1 L540.8 139.8 L545.0 143.7 L549.2 147.6" stroke="#670748" stroke-width="1.35" fill="none"/><path d="M84.1 27.8 L93.4 27.8 L102.7 27.9 L112.0 27.9 L121.3 27.9 L130.6 28.0 L139.9 28.0 L149.2 28.0 L158.5 28.1 L167.8 28.1 L177.2 28.2 L186.5 28.3 L195.8 28.3 L205.1 28.4 L214.4 28.5 L223.7 28.6 L233.0 28.7 L242.3 28.8 L251.6 28.9 L260.9 29.0 L270.2 29.1 L279.5 29.3 L288.9 29.4 L298.2 29.6 L307.5 29.8 L316.8 30.0 L326.1 30.2 L335.4 30.5 L344.7 30.7 L354.0 31.0 L363.3 31.3 L372.6 31.7 L381.9 32.1 L391.2 32.5 L400.6 32.9 L409.9 33.4 L419.2 33.9 L428.5 34.5 L437.8 35.1 L447.1 35.8 L456.4 36.5 L465.7 37.3 L475.0 38.1 L484.3 39.1 L493.6 40.1 L502.9 41.2 L512.3 42.4 L521.6 43.7 L530.9 45.1 L540.2 46.7 L549.5 48.4 L558.8 50.2 L568.1 52.2 L577.4 54.3 L586.7 56.6 L596.0 59.2 L605.3 61.9 L614.6 64.8 L624.0 68.0 L633.3 71.5" stroke="#000000" stroke-width="1.35" fill="none"/><clipPath id="rc"><rect x="74.9" y="469.0" width="604.5" height="106.20000000000005"/></clipPath><g clip-path="url(#rc)"><path d="M84.1 538.6 L108.7 498.2 L134.0 520.8 L157.4 535.6 L184.1 518.8 L219.0 524.3 L269.1 500.6 L315.9 528.9 L362.7 506.4 L408.5 528.3 L446.7 524.5 L499.7 536.7 L532.2 546.6 L563.9 516.7 L598.8 513.8 L633.3 509.8" stroke="#000000" stroke-width="1.5" fill="none" stroke-linejoin="miter"/><path d="M84.1 497.4 L108.7 503.9 L134.0 530.4 L157.4 517.1 L183.6 511.3 L219.5 526.1 L269.1 503.9 L315.9 520.4 L362.7 528.3 L409.6 528.5 L447.4 537.8 L499.7 537.2 L531.5 530.7 L563.0 519.3 L599.8 516.2 L632.6 502.5" stroke="#ff0000" stroke-width="1.5" fill="none" stroke-linejoin="miter"/><path d="M84.1 497.3 L108.7 507.5 L134.0 518.4 L157.4 521.0 L182.7 509.4 L216.9 528.0 L266.5 518.1 L314.7 520.1 L360.7 529.9 L407.1 519.2 L445.5 525.4 L499.4 531.5 L532.7 532.8 L561.3 510.3 L598.8 513.0" stroke="#00ff00" stroke-width="1.5" fill="none" stroke-linejoin="miter"/><path d="M84.1 522.8 L108.7 525.2 L134.0 521.4 L157.4 524.8 L182.7 533.7 L218.3 522.6 L267.7 505.6 L315.9 529.7 L361.5 517.0 L407.8 523.9 L445.5 511.2 L499.7 527.5 L533.0 533.3 L562.5 529.0 L598.9 507.4" stroke="#0000ff" stroke-width="1.5" fill="none" stroke-linejoin="miter"/><path d="M84.1 528.9 L108.7 525.6 L134.0 547.4 L156.9 527.4 L182.7 524.1 L206.3 527.7 L231.8 525.2 L255.2 514.5 L281.2 511.5 L304.7 523.7 L328.2 534.3 L349.6 515.2 L374.4 521.9 L400.9 495.4 L431.8 512.7 L460.4 513.3 L485.0 539.9 L511.0 525.4 L532.5 534.3 L555.1 520.8" stroke="#ffff00" stroke-width="1.5" fill="none" stroke-linejoin="miter"/><path d="M84.1 517.1 L133.5 532.8 L156.9 532.3 L182.7 525.5 L255.2 520.6 L280.7 517.7 L304.7 536.3 L328.1 520.6 L348.9 518.0 L375.6 484.1 L400.9 534.2 L431.8 503.5 L460.4 534.3 L484.1 498.7 L510.5 547.8 L532.5 553.1 L557.0 519.2" stroke="#bc8f8f" stroke-width="1.5" fill="none" stroke-linejoin="miter"/><path d="M231.3 524.9 L254.4 514.0 L280.9 529.4 L304.0 514.3 L327.5 522.5 L348.9 501.8 L376.1 534.3 L401.4 523.5 L431.8 540.8 L460.4 509.8 L484.1 554.5 L510.3 515.7 L532.3 477.1 L553.3 523.4" stroke="#dcdcdc" stroke-width="1.5" fill="none" stroke-linejoin="miter"/><path d="M182.2 534.2 L205.3 535.2 L253.8 513.5 L303.3 520.3 L327.5 475.0 L348.5 521.5 L376.1 532.5 L400.9 524.2 L431.8 518.9 L459.9 569.9 L484.1 514.4 L510.5 489.4 L531.3 528.0 L553.3 540.9" stroke="#9400d3" stroke-width="1.5" fill="none" stroke-linejoin="miter"/><path d="M231.3 504.1 L254.2 520.2 L280.9 518.8 L302.9 516.0 L327.5 541.6 L347.7 512.6 L376.3 531.8 L400.5 524.0 L430.5 536.4 L459.9 522.5 L509.8 507.5 L531.1 520.0" stroke="#00ffff" stroke-width="1.5" fill="none" stroke-linejoin="miter"/><path d="M302.6 502.2 L326.3 540.3 L400.5 508.8 L431.4 573.6 L459.9 487.2 L484.0 509.9 L509.8 516.4 L530.3 497.8 L549.2 554.2" stroke="#ff00ff" stroke-width="1.5" fill="none" stroke-linejoin="miter"/></g><rect x="74.9" y="7.5" width="604.5" height="457.5" fill="none" stroke="#000" stroke-width="1.2"/><rect x="74.9" y="469.0" width="604.5" height="106.20000000000005" fill="none" stroke="#000" stroke-width="1.2"/><path d="M95.6 7.5v7.0M111.4 7.5v7.0M124.4 7.5v7.0M135.3 7.5v7.0M144.8 7.5v7.0M153.1 7.5v7.0M160.6 7.5v14.0M209.8 7.5v7.0M238.5 7.5v7.0M258.9 7.5v7.0M274.7 7.5v7.0M287.7 7.5v7.0M298.6 7.5v7.0M308.1 7.5v7.0M316.4 7.5v7.0M323.9 7.5v14.0M373.1 7.5v7.0M401.8 7.5v7.0M422.2 7.5v7.0M438.0 7.5v7.0M451.0 7.5v7.0M461.9 7.5v7.0M471.4 7.5v7.0M479.7 7.5v7.0M487.2 7.5v14.0M536.4 7.5v7.0M565.1 7.5v7.0M585.5 7.5v7.0M601.3 7.5v7.0M614.3 7.5v7.0M625.2 7.5v7.0M634.7 7.5v7.0M643.0 7.5v7.0M650.5 7.5v14.0M95.6 465.0v-7.0M111.4 465.0v-7.0M124.4 465.0v-7.0M135.3 465.0v-7.0M144.8 465.0v-7.0M153.1 465.0v-7.0M160.6 465.0v-14.0M209.8 465.0v-7.0M238.5 465.0v-7.0M258.9 465.0v-7.0M274.7 465.0v-7.0M287.7 465.0v-7.0M298.6 465.0v-7.0M308.1 465.0v-7.0M316.4 465.0v-7.0M323.9 465.0v-14.0M373.1 465.0v-7.0M401.8 465.0v-7.0M422.2 465.0v-7.0M438.0 465.0v-7.0M451.0 465.0v-7.0M461.9 465.0v-7.0M471.4 465.0v-7.0M479.7 465.0v-7.0M487.2 465.0v-14.0M536.4 465.0v-7.0M565.1 465.0v-7.0M585.5 465.0v-7.0M601.3 465.0v-7.0M614.3 465.0v-7.0M625.2 465.0v-7.0M634.7 465.0v-7.0M643.0 465.0v-7.0M650.5 465.0v-14.0M95.6 469.0v7.0M111.4 469.0v7.0M124.4 469.0v7.0M135.3 469.0v7.0M144.8 469.0v7.0M153.1 469.0v7.0M160.6 469.0v14.0M209.8 469.0v7.0M238.5 469.0v7.0M258.9 469.0v7.0M274.7 469.0v7.0M287.7 469.0v7.0M298.6 469.0v7.0M308.1 469.0v7.0M316.4 469.0v7.0M323.9 469.0v14.0M373.1 469.0v7.0M401.8 469.0v7.0M422.2 469.0v7.0M438.0 469.0v7.0M451.0 469.0v7.0M461.9 469.0v7.0M471.4 469.0v7.0M479.7 469.0v7.0M487.2 469.0v14.0M536.4 469.0v7.0M565.1 469.0v7.0M585.5 469.0v7.0M601.3 469.0v7.0M614.3 469.0v7.0M625.2 469.0v7.0M634.7 469.0v7.0M643.0 469.0v7.0M650.5 469.0v14.0M95.6 575.2v-7.0M111.4 575.2v-7.0M124.4 575.2v-7.0M135.3 575.2v-7.0M144.8 575.2v-7.0M153.1 575.2v-7.0M160.6 575.2v-14.0M209.8 575.2v-7.0M238.5 575.2v-7.0M258.9 575.2v-7.0M274.7 575.2v-7.0M287.7 575.2v-7.0M298.6 575.2v-7.0M308.1 575.2v-7.0M316.4 575.2v-7.0M323.9 575.2v-14.0M373.1 575.2v-7.0M401.8 575.2v-7.0M422.2 575.2v-7.0M438.0 575.2v-7.0M451.0 575.2v-7.0M461.9 575.2v-7.0M471.4 575.2v-7.0M479.7 575.2v-7.0M487.2 575.2v-14.0M536.4 575.2v-7.0M565.1 575.2v-7.0M585.5 575.2v-7.0M601.3 575.2v-7.0M614.3 575.2v-7.0M625.2 575.2v-7.0M634.7 575.2v-7.0M643.0 575.2v-7.0M650.5 575.2v-14.0M74.9 465.0h14M679.4 465.0h-14M74.9 437.1h7M679.4 437.1h-7M74.9 409.2h14M679.4 409.2h-14M74.9 381.3h7M679.4 381.3h-7M74.9 353.4h14M679.4 353.4h-14M74.9 325.5h7M679.4 325.5h-7M74.9 297.6h14M679.4 297.6h-14M74.9 269.8h7M679.4 269.8h-7M74.9 241.9h14M679.4 241.9h-14M74.9 214.0h7M679.4 214.0h-7M74.9 186.1h14M679.4 186.1h-14M74.9 158.2h7M679.4 158.2h-7M74.9 130.3h14M679.4 130.3h-14M74.9 102.4h7M679.4 102.4h-7M74.9 74.5h14M679.4 74.5h-14M74.9 46.6h7M679.4 46.6h-7M74.9 18.7h14M679.4 18.7h-14M74.9 557.5h14M679.4 557.5h-14M74.9 539.8h7M679.4 539.8h-7M74.9 522.1h14M679.4 522.1h-14M74.9 504.4h7M679.4 504.4h-7M74.9 486.7h14M679.4 486.7h-14" stroke="#000" stroke-width="1.2" fill="none"/><g font-family="Liberation Serif" font-size="20" fill="#000"><text x="68.4" y="472.5" text-anchor="end">0.2</text><text x="68.4" y="416.7" text-anchor="end">0.3</text><text x="68.4" y="360.9" text-anchor="end">0.4</text><text x="68.4" y="305.1" text-anchor="end">0.5</text><text x="68.4" y="249.4" text-anchor="end">0.6</text><text x="68.4" y="193.6" text-anchor="end">0.7</text><text x="68.4" y="137.8" text-anchor="end">0.8</text><text x="68.4" y="82.0" text-anchor="end">0.9</text><text x="68.4" y="26.2" text-anchor="end">1</text><text x="68.4" y="494.0" text-anchor="end">0.04</text><text x="68.4" y="529.4" text-anchor="end">0</text><text x="68.4" y="564.8" text-anchor="end">-0.04</text><text x="161.3" y="596" text-anchor="middle">0.1</text><text x="324.6" y="596" text-anchor="middle">1</text><text x="487.9" y="596" text-anchor="middle">10</text><text x="651.2" y="596" text-anchor="middle">100</text><text x="342.6" y="617">tau ,</text><text x="383.8" y="617">ns</text><text transform="translate(31.2 234.6) rotate(-90)" text-anchor="middle">I (q, t) / I (q, 0)</text><text transform="translate(20.3 521.6) rotate(-90)" text-anchor="middle">residuals</text></g><rect x="100.8" y="169.2" width="110.2" height="275.8" fill="#fff" stroke="#000" stroke-width="1.2"/><g font-family="Liberation Serif" font-size="18" fill="#000"><circle cx="120.3" cy="185.3" r="4.6" fill="#000000"/><text x="145.2" y="196.3">0.04</text><text x="182.5" y="196.3">Å</text><text x="195.5" y="184.8" font-size="13.6">-1</text><circle cx="120.3" cy="212.3" r="4.6" fill="#ff0000"/><text x="145.2" y="223.3">0.05</text><text x="182.5" y="223.3">Å</text><text x="195.5" y="211.8" font-size="13.6">-1</text><circle cx="120.3" cy="239.3" r="4.6" fill="#00ff00"/><text x="145.2" y="250.3">0.06</text><text x="182.5" y="250.3">Å</text><text x="195.5" y="238.8" font-size="13.6">-1</text><circle cx="120.3" cy="266.3" r="4.6" fill="#0000ff"/><text x="145.2" y="277.3">0.07</text><text x="182.5" y="277.3">Å</text><text x="195.5" y="265.8" font-size="13.6">-1</text><circle cx="120.3" cy="293.3" r="4.6" fill="#bc8f8f"/><text x="145.2" y="304.3">0.08</text><text x="182.5" y="304.3">Å</text><text x="195.5" y="292.8" font-size="13.6">-1</text><circle cx="120.3" cy="320.3" r="4.6" fill="#9400d3"/><text x="145.2" y="331.3">0.09</text><text x="182.5" y="331.3">Å</text><text x="195.5" y="319.8" font-size="13.6">-1</text><circle cx="120.3" cy="347.3" r="4.6" fill="#00ffff"/><text x="145.2" y="358.3">0.1</text><text x="182.5" y="358.3">Å</text><text x="195.5" y="346.8" font-size="13.6">-1</text><circle cx="120.3" cy="374.3" r="4.6" fill="#ff00ff"/><text x="145.2" y="385.3">0.11</text><text x="182.5" y="385.3">Å</text><text x="195.5" y="373.8" font-size="13.6">-1</text><circle cx="120.3" cy="401.3" r="4.6" fill="#ffa500"/><text x="145.2" y="412.3">0.12</text><text x="182.5" y="412.3">Å</text><text x="195.5" y="400.8" font-size="13.6">-1</text><circle cx="120.3" cy="428.3" r="4.6" fill="#670748"/><text x="145.2" y="439.3">0.13</text><text x="182.5" y="439.3">Å</text><text x="195.5" y="427.8" font-size="13.6">-1</text></g><rect x="307.2" y="209.0" width="348.3" height="232.3" fill="#fff" stroke="#3a3a3a" stroke-width="1.1"/><g><path clip-path="url(#ic)" d="M312.3 221.0V228.0M309.9 221.0h4.8M309.9 228.0h4.8" stroke="#000000" stroke-width="0.9" fill="none" stroke-opacity="0.75"/><circle cx="312.3" cy="224.5" r="2.8" fill="#000000"/><path clip-path="url(#ic)" d="M326.5 209.6V213.6M324.1 209.6h4.8M324.1 213.6h4.8" stroke="#000000" stroke-width="0.9" fill="none" stroke-opacity="0.75"/><circle cx="326.5" cy="211.6" r="2.8" fill="#000000"/><path clip-path="url(#ic)" d="M341.1 216.9V220.9M338.7 216.9h4.8M338.7 220.9h4.8" stroke="#000000" stroke-width="0.9" fill="none" stroke-opacity="0.75"/><circle cx="341.1" cy="218.9" r="2.8" fill="#000000"/><path clip-path="url(#ic)" d="M354.6 221.7V225.7M352.2 221.7h4.8M352.2 225.7h4.8" stroke="#000000" stroke-width="0.9" fill="none" stroke-opacity="0.75"/><circle cx="354.6" cy="223.7" r="2.8" fill="#000000"/><path clip-path="url(#ic)" d="M370.0 216.4V220.4M367.6 216.4h4.8M367.6 220.4h4.8" stroke="#000000" stroke-width="0.9" fill="none" stroke-opacity="0.75"/><circle cx="370.0" cy="218.4" r="2.8" fill="#000000"/><path clip-path="url(#ic)" d="M390.1 218.3V222.3M387.7 218.3h4.8M387.7 222.3h4.8" stroke="#000000" stroke-width="0.9" fill="none" stroke-opacity="0.75"/><circle cx="390.1" cy="220.3" r="2.8" fill="#000000"/><path clip-path="url(#ic)" d="M419.0 211.0V215.0M416.6 211.0h4.8M416.6 215.0h4.8" stroke="#000000" stroke-width="0.9" fill="none" stroke-opacity="0.75"/><circle cx="419.0" cy="213.0" r="2.8" fill="#000000"/><path clip-path="url(#ic)" d="M446.0 220.5V224.5M443.6 220.5h4.8M443.6 224.5h4.8" stroke="#000000" stroke-width="0.9" fill="none" stroke-opacity="0.75"/><circle cx="446.0" cy="222.5" r="2.8" fill="#000000"/><path clip-path="url(#ic)" d="M473.0 214.0V218.0M470.6 214.0h4.8M470.6 218.0h4.8" stroke="#000000" stroke-width="0.9" fill="none" stroke-opacity="0.75"/><circle cx="473.0" cy="216.0" r="2.8" fill="#000000"/><path clip-path="url(#ic)" d="M499.4 222.0V226.0M497.0 222.0h4.8M497.0 226.0h4.8" stroke="#000000" stroke-width="0.9" fill="none" stroke-opacity="0.75"/><circle cx="499.4" cy="224.0" r="2.8" fill="#000000"/><path clip-path="url(#ic)" d="M521.4 222.0V226.0M519.0 222.0h4.8M519.0 226.0h4.8" stroke="#000000" stroke-width="0.9" fill="none" stroke-opacity="0.75"/><circle cx="521.4" cy="224.0" r="2.8" fill="#000000"/><path clip-path="url(#ic)" d="M552.0 228.0V233.0M549.6 228.0h4.8M549.6 233.0h4.8" stroke="#000000" stroke-width="0.9" fill="none" stroke-opacity="0.75"/><circle cx="552.0" cy="230.5" r="2.8" fill="#000000"/><path clip-path="url(#ic)" d="M570.7 233.5V238.5M568.3 233.5h4.8M568.3 238.5h4.8" stroke="#000000" stroke-width="0.9" fill="none" stroke-opacity="0.75"/><circle cx="570.7" cy="236.0" r="2.8" fill="#000000"/><path clip-path="url(#ic)" d="M589.0 226.4V232.4M586.6 226.4h4.8M586.6 232.4h4.8" stroke="#000000" stroke-width="0.9" fill="none" stroke-opacity="0.75"/><circle cx="589.0" cy="229.4" r="2.8" fill="#000000"/><path clip-path="url(#ic)" d="M609.1 229.9V235.9M606.7 229.9h4.8M606.7 235.9h4.8" stroke="#000000" stroke-width="0.9" fill="none" stroke-opacity="0.75"/><circle cx="609.1" cy="232.9" r="2.8" fill="#000000"/><path clip-path="url(#ic)" d="M629.0 233.5V241.5M626.6 233.5h4.8M626.6 241.5h4.8" stroke="#000000" stroke-width="0.9" fill="none" stroke-opacity="0.75"/><circle cx="629.0" cy="237.5" r="2.8" fill="#000000"/><path clip-path="url(#ic)" d="M312.3 222.9V228.9M309.9 222.9h4.8M309.9 228.9h4.8" stroke="#ff0000" stroke-width="0.9" fill="none" stroke-opacity="0.75"/><circle cx="312.3" cy="225.9" r="2.8" fill="#ff0000"/><path clip-path="url(#ic)" d="M326.5 225.9V229.9M324.1 225.9h4.8M324.1 229.9h4.8" stroke="#ff0000" stroke-width="0.9" fill="none" stroke-opacity="0.75"/><circle cx="326.5" cy="227.9" r="2.8" fill="#ff0000"/><path clip-path="url(#ic)" d="M341.1 234.0V238.0M338.7 234.0h4.8M338.7 238.0h4.8" stroke="#ff0000" stroke-width="0.9" fill="none" stroke-opacity="0.75"/><circle cx="341.1" cy="236.0" r="2.8" fill="#ff0000"/><path clip-path="url(#ic)" d="M354.6 230.0V234.0M352.2 230.0h4.8M352.2 234.0h4.8" stroke="#ff0000" stroke-width="0.9" fill="none" stroke-opacity="0.75"/><circle cx="354.6" cy="232.0" r="2.8" fill="#ff0000"/><path clip-path="url(#ic)" d="M369.7 228.3V232.3M367.3 228.3h4.8M367.3 232.3h4.8" stroke="#ff0000" stroke-width="0.9" fill="none" stroke-opacity="0.75"/><circle cx="369.7" cy="230.3" r="2.8" fill="#ff0000"/><path clip-path="url(#ic)" d="M390.4 232.9V236.9M388.0 232.9h4.8M388.0 236.9h4.8" stroke="#ff0000" stroke-width="0.9" fill="none" stroke-opacity="0.75"/><circle cx="390.4" cy="234.9" r="2.8" fill="#ff0000"/><path clip-path="url(#ic)" d="M419.0 226.4V230.4M416.6 226.4h4.8M416.6 230.4h4.8" stroke="#ff0000" stroke-width="0.9" fill="none" stroke-opacity="0.75"/><circle cx="419.0" cy="228.4" r="2.8" fill="#ff0000"/><path clip-path="url(#ic)" d="M446.0 231.8V235.8M443.6 231.8h4.8M443.6 235.8h4.8" stroke="#ff0000" stroke-width="0.9" fill="none" stroke-opacity="0.75"/><circle cx="446.0" cy="233.8" r="2.8" fill="#ff0000"/><path clip-path="url(#ic)" d="M473.0 234.8V238.8M470.6 234.8h4.8M470.6 238.8h4.8" stroke="#ff0000" stroke-width="0.9" fill="none" stroke-opacity="0.75"/><circle cx="473.0" cy="236.8" r="2.8" fill="#ff0000"/><path clip-path="url(#ic)" d="M500.0 235.8V239.8M497.6 235.8h4.8M497.6 239.8h4.8" stroke="#ff0000" stroke-width="0.9" fill="none" stroke-opacity="0.75"/><circle cx="500.0" cy="237.8" r="2.8" fill="#ff0000"/><path clip-path="url(#ic)" d="M521.8 239.8V243.8M519.4 239.8h4.8M519.4 243.8h4.8" stroke="#ff0000" stroke-width="0.9" fill="none" stroke-opacity="0.75"/><circle cx="521.8" cy="241.8" r="2.8" fill="#ff0000"/><path clip-path="url(#ic)" d="M552.0 241.6V246.6M549.6 241.6h4.8M549.6 246.6h4.8" stroke="#ff0000" stroke-width="0.9" fill="none" stroke-opacity="0.75"/><circle cx="552.0" cy="244.1" r="2.8" fill="#ff0000"/><path clip-path="url(#ic)" d="M570.3 241.9V246.9M567.9 241.9h4.8M567.9 246.9h4.8" stroke="#ff0000" stroke-width="0.9" fill="none" stroke-opacity="0.75"/><circle cx="570.3" cy="244.4" r="2.8" fill="#ff0000"/><path clip-path="url(#ic)" d="M588.5 241.0V247.0M586.1 241.0h4.8M586.1 247.0h4.8" stroke="#ff0000" stroke-width="0.9" fill="none" stroke-opacity="0.75"/><circle cx="588.5" cy="244.0" r="2.8" fill="#ff0000"/><path clip-path="url(#ic)" d="M609.7 245.0V251.0M607.3 245.0h4.8M607.3 251.0h4.8" stroke="#ff0000" stroke-width="0.9" fill="none" stroke-opacity="0.75"/><circle cx="609.7" cy="248.0" r="2.8" fill="#ff0000"/><path clip-path="url(#ic)" d="M628.6 245.9V253.9M626.2 245.9h4.8M626.2 253.9h4.8" stroke="#ff0000" stroke-width="0.9" fill="none" stroke-opacity="0.75"/><circle cx="628.6" cy="249.9" r="2.8" fill="#ff0000"/><path clip-path="url(#ic)" d="M312.3 237.0V243.0M309.9 237.0h4.8M309.9 243.0h4.8" stroke="#00ff00" stroke-width="0.9" fill="none" stroke-opacity="0.75"/><circle cx="312.3" cy="240.0" r="2.8" fill="#00ff00"/><path clip-path="url(#ic)" d="M326.5 241.0V245.0M324.1 241.0h4.8M324.1 245.0h4.8" stroke="#00ff00" stroke-width="0.9" fill="none" stroke-opacity="0.75"/><circle cx="326.5" cy="243.0" r="2.8" fill="#00ff00"/><path clip-path="url(#ic)" d="M341.1 244.2V248.2M338.7 244.2h4.8M338.7 248.2h4.8" stroke="#00ff00" stroke-width="0.9" fill="none" stroke-opacity="0.75"/><circle cx="341.1" cy="246.2" r="2.8" fill="#00ff00"/><path clip-path="url(#ic)" d="M354.6 245.0V249.0M352.2 245.0h4.8M352.2 249.0h4.8" stroke="#00ff00" stroke-width="0.9" fill="none" stroke-opacity="0.75"/><circle cx="354.6" cy="247.0" r="2.8" fill="#00ff00"/><path clip-path="url(#ic)" d="M369.2 241.7V245.7M366.8 241.7h4.8M366.8 245.7h4.8" stroke="#00ff00" stroke-width="0.9" fill="none" stroke-opacity="0.75"/><circle cx="369.2" cy="243.7" r="2.8" fill="#00ff00"/><path clip-path="url(#ic)" d="M388.9 247.2V251.2M386.5 247.2h4.8M386.5 251.2h4.8" stroke="#00ff00" stroke-width="0.9" fill="none" stroke-opacity="0.75"/><circle cx="388.9" cy="249.2" r="2.8" fill="#00ff00"/><path clip-path="url(#ic)" d="M417.5 244.6V248.6M415.1 244.6h4.8M415.1 248.6h4.8" stroke="#00ff00" stroke-width="0.9" fill="none" stroke-opacity="0.75"/><circle cx="417.5" cy="246.6" r="2.8" fill="#00ff00"/><path clip-path="url(#ic)" d="M445.3 245.6V249.6M442.9 245.6h4.8M442.9 249.6h4.8" stroke="#00ff00" stroke-width="0.9" fill="none" stroke-opacity="0.75"/><circle cx="445.3" cy="247.6" r="2.8" fill="#00ff00"/><path clip-path="url(#ic)" d="M471.8 249.0V253.0M469.4 249.0h4.8M469.4 253.0h4.8" stroke="#00ff00" stroke-width="0.9" fill="none" stroke-opacity="0.75"/><circle cx="471.8" cy="251.0" r="2.8" fill="#00ff00"/><path clip-path="url(#ic)" d="M498.6 246.8V250.8M496.2 246.8h4.8M496.2 250.8h4.8" stroke="#00ff00" stroke-width="0.9" fill="none" stroke-opacity="0.75"/><circle cx="498.6" cy="248.8" r="2.8" fill="#00ff00"/><path clip-path="url(#ic)" d="M520.7 249.7V253.7M518.3 249.7h4.8M518.3 253.7h4.8" stroke="#00ff00" stroke-width="0.9" fill="none" stroke-opacity="0.75"/><circle cx="520.7" cy="251.7" r="2.8" fill="#00ff00"/><path clip-path="url(#ic)" d="M551.8 253.3V258.3M549.4 253.3h4.8M549.4 258.3h4.8" stroke="#00ff00" stroke-width="0.9" fill="none" stroke-opacity="0.75"/><circle cx="551.8" cy="255.8" r="2.8" fill="#00ff00"/><path clip-path="url(#ic)" d="M571.0 255.8V260.8M568.6 255.8h4.8M568.6 260.8h4.8" stroke="#00ff00" stroke-width="0.9" fill="none" stroke-opacity="0.75"/><circle cx="571.0" cy="258.3" r="2.8" fill="#00ff00"/><path clip-path="url(#ic)" d="M587.5 251.2V257.2M585.1 251.2h4.8M585.1 257.2h4.8" stroke="#00ff00" stroke-width="0.9" fill="none" stroke-opacity="0.75"/><circle cx="587.5" cy="254.2" r="2.8" fill="#00ff00"/><path clip-path="url(#ic)" d="M609.1 256.2V262.2M606.7 256.2h4.8M606.7 262.2h4.8" stroke="#00ff00" stroke-width="0.9" fill="none" stroke-opacity="0.75"/><circle cx="609.1" cy="259.2" r="2.8" fill="#00ff00"/><path clip-path="url(#ic)" d="M312.3 257.5V263.5M309.9 257.5h4.8M309.9 263.5h4.8" stroke="#0000ff" stroke-width="0.9" fill="none" stroke-opacity="0.75"/><circle cx="312.3" cy="260.5" r="2.8" fill="#0000ff"/><path clip-path="url(#ic)" d="M326.5 259.2V263.2M324.1 259.2h4.8M324.1 263.2h4.8" stroke="#0000ff" stroke-width="0.9" fill="none" stroke-opacity="0.75"/><circle cx="326.5" cy="261.2" r="2.8" fill="#0000ff"/><path clip-path="url(#ic)" d="M341.1 258.2V262.2M338.7 258.2h4.8M338.7 262.2h4.8" stroke="#0000ff" stroke-width="0.9" fill="none" stroke-opacity="0.75"/><circle cx="341.1" cy="260.2" r="2.8" fill="#0000ff"/><path clip-path="url(#ic)" d="M354.6 259.2V263.2M352.2 259.2h4.8M352.2 263.2h4.8" stroke="#0000ff" stroke-width="0.9" fill="none" stroke-opacity="0.75"/><circle cx="354.6" cy="261.2" r="2.8" fill="#0000ff"/><path clip-path="url(#ic)" d="M369.2 261.7V265.7M366.8 261.7h4.8M366.8 265.7h4.8" stroke="#0000ff" stroke-width="0.9" fill="none" stroke-opacity="0.75"/><circle cx="369.2" cy="263.7" r="2.8" fill="#0000ff"/><path clip-path="url(#ic)" d="M389.7 258.8V262.8M387.3 258.8h4.8M387.3 262.8h4.8" stroke="#0000ff" stroke-width="0.9" fill="none" stroke-opacity="0.75"/><circle cx="389.7" cy="260.8" r="2.8" fill="#0000ff"/><path clip-path="url(#ic)" d="M418.2 254.4V258.4M415.8 254.4h4.8M415.8 258.4h4.8" stroke="#0000ff" stroke-width="0.9" fill="none" stroke-opacity="0.75"/><circle cx="418.2" cy="256.4" r="2.8" fill="#0000ff"/><path clip-path="url(#ic)" d="M446.0 261.4V265.4M443.6 261.4h4.8M443.6 265.4h4.8" stroke="#0000ff" stroke-width="0.9" fill="none" stroke-opacity="0.75"/><circle cx="446.0" cy="263.4" r="2.8" fill="#0000ff"/><path clip-path="url(#ic)" d="M472.3 258.5V262.5M469.9 258.5h4.8M469.9 262.5h4.8" stroke="#0000ff" stroke-width="0.9" fill="none" stroke-opacity="0.75"/><circle cx="472.3" cy="260.5" r="2.8" fill="#0000ff"/><path clip-path="url(#ic)" d="M499.0 261.3V265.3M496.6 261.3h4.8M496.6 265.3h4.8" stroke="#0000ff" stroke-width="0.9" fill="none" stroke-opacity="0.75"/><circle cx="499.0" cy="263.3" r="2.8" fill="#0000ff"/><path clip-path="url(#ic)" d="M520.7 258.9V262.9M518.3 258.9h4.8M518.3 262.9h4.8" stroke="#0000ff" stroke-width="0.9" fill="none" stroke-opacity="0.75"/><circle cx="520.7" cy="260.9" r="2.8" fill="#0000ff"/><path clip-path="url(#ic)" d="M552.0 265.2V270.2M549.6 265.2h4.8M549.6 270.2h4.8" stroke="#0000ff" stroke-width="0.9" fill="none" stroke-opacity="0.75"/><circle cx="552.0" cy="267.7" r="2.8" fill="#0000ff"/><path clip-path="url(#ic)" d="M571.2 268.9V273.9M568.8 268.9h4.8M568.8 273.9h4.8" stroke="#0000ff" stroke-width="0.9" fill="none" stroke-opacity="0.75"/><circle cx="571.2" cy="271.4" r="2.8" fill="#0000ff"/><path clip-path="url(#ic)" d="M588.2 269.7V275.7M585.8 269.7h4.8M585.8 275.7h4.8" stroke="#0000ff" stroke-width="0.9" fill="none" stroke-opacity="0.75"/><circle cx="588.2" cy="272.7" r="2.8" fill="#0000ff"/><path clip-path="url(#ic)" d="M609.2 267.8V273.8M606.8 267.8h4.8M606.8 273.8h4.8" stroke="#0000ff" stroke-width="0.9" fill="none" stroke-opacity="0.75"/><circle cx="609.2" cy="270.8" r="2.8" fill="#0000ff"/><path clip-path="url(#ic)" d="M312.3 268.5V276.5M309.9 268.5h4.8M309.9 276.5h4.8" stroke="#bc8f8f" stroke-width="0.9" fill="none" stroke-opacity="0.75"/><circle cx="312.3" cy="272.5" r="2.8" fill="#bc8f8f"/><path clip-path="url(#ic)" d="M326.5 269.2V274.2M324.1 269.2h4.8M324.1 274.2h4.8" stroke="#bc8f8f" stroke-width="0.9" fill="none" stroke-opacity="0.75"/><circle cx="326.5" cy="271.7" r="2.8" fill="#bc8f8f"/><path clip-path="url(#ic)" d="M341.1 275.0V280.0M338.7 275.0h4.8M338.7 280.0h4.8" stroke="#bc8f8f" stroke-width="0.9" fill="none" stroke-opacity="0.75"/><circle cx="341.1" cy="277.5" r="2.8" fill="#bc8f8f"/><path clip-path="url(#ic)" d="M354.3 269.9V274.9M351.9 269.9h4.8M351.9 274.9h4.8" stroke="#bc8f8f" stroke-width="0.9" fill="none" stroke-opacity="0.75"/><circle cx="354.3" cy="272.4" r="2.8" fill="#bc8f8f"/><path clip-path="url(#ic)" d="M369.2 269.2V274.2M366.8 269.2h4.8M366.8 274.2h4.8" stroke="#bc8f8f" stroke-width="0.9" fill="none" stroke-opacity="0.75"/><circle cx="369.2" cy="271.7" r="2.8" fill="#bc8f8f"/><path clip-path="url(#ic)" d="M382.8 270.3V275.3M380.4 270.3h4.8M380.4 275.3h4.8" stroke="#bc8f8f" stroke-width="0.9" fill="none" stroke-opacity="0.75"/><circle cx="382.8" cy="272.8" r="2.8" fill="#bc8f8f"/><path clip-path="url(#ic)" d="M397.5 269.9V274.9M395.1 269.9h4.8M395.1 274.9h4.8" stroke="#bc8f8f" stroke-width="0.9" fill="none" stroke-opacity="0.75"/><circle cx="397.5" cy="272.4" r="2.8" fill="#bc8f8f"/><path clip-path="url(#ic)" d="M411.0 267.4V272.4M408.6 267.4h4.8M408.6 272.4h4.8" stroke="#bc8f8f" stroke-width="0.9" fill="none" stroke-opacity="0.75"/><circle cx="411.0" cy="269.9" r="2.8" fill="#bc8f8f"/><path clip-path="url(#ic)" d="M426.0 267.0V272.0M423.6 267.0h4.8M423.6 272.0h4.8" stroke="#bc8f8f" stroke-width="0.9" fill="none" stroke-opacity="0.75"/><circle cx="426.0" cy="269.5" r="2.8" fill="#bc8f8f"/><path clip-path="url(#ic)" d="M439.5 270.6V275.6M437.1 270.6h4.8M437.1 275.6h4.8" stroke="#bc8f8f" stroke-width="0.9" fill="none" stroke-opacity="0.75"/><circle cx="439.5" cy="273.1" r="2.8" fill="#bc8f8f"/><path clip-path="url(#ic)" d="M453.1 273.9V278.9M450.7 273.9h4.8M450.7 278.9h4.8" stroke="#bc8f8f" stroke-width="0.9" fill="none" stroke-opacity="0.75"/><circle cx="453.1" cy="276.4" r="2.8" fill="#bc8f8f"/><path clip-path="url(#ic)" d="M465.4 269.5V274.5M463.0 269.5h4.8M463.0 274.5h4.8" stroke="#bc8f8f" stroke-width="0.9" fill="none" stroke-opacity="0.75"/><circle cx="465.4" cy="272.0" r="2.8" fill="#bc8f8f"/><path clip-path="url(#ic)" d="M479.7 272.1V277.1M477.3 272.1h4.8M477.3 277.1h4.8" stroke="#bc8f8f" stroke-width="0.9" fill="none" stroke-opacity="0.75"/><circle cx="479.7" cy="274.6" r="2.8" fill="#bc8f8f"/><path clip-path="url(#ic)" d="M495.0 265.8V271.8M492.6 265.8h4.8M492.6 271.8h4.8" stroke="#bc8f8f" stroke-width="0.9" fill="none" stroke-opacity="0.75"/><circle cx="495.0" cy="268.8" r="2.8" fill="#bc8f8f"/><path clip-path="url(#ic)" d="M512.8 272.0V278.0M510.4 272.0h4.8M510.4 278.0h4.8" stroke="#bc8f8f" stroke-width="0.9" fill="none" stroke-opacity="0.75"/><circle cx="512.8" cy="275.0" r="2.8" fill="#bc8f8f"/><path clip-path="url(#ic)" d="M529.3 274.2V280.2M526.9 274.2h4.8M526.9 280.2h4.8" stroke="#bc8f8f" stroke-width="0.9" fill="none" stroke-opacity="0.75"/><circle cx="529.3" cy="277.2" r="2.8" fill="#bc8f8f"/><path clip-path="url(#ic)" d="M543.5 283.3V289.3M541.1 283.3h4.8M541.1 289.3h4.8" stroke="#bc8f8f" stroke-width="0.9" fill="none" stroke-opacity="0.75"/><circle cx="543.5" cy="286.3" r="2.8" fill="#bc8f8f"/><path clip-path="url(#ic)" d="M558.5 282.4V288.4M556.1 282.4h4.8M556.1 288.4h4.8" stroke="#bc8f8f" stroke-width="0.9" fill="none" stroke-opacity="0.75"/><circle cx="558.5" cy="285.4" r="2.8" fill="#bc8f8f"/><path clip-path="url(#ic)" d="M570.9 287.6V293.6M568.5 287.6h4.8M568.5 293.6h4.8" stroke="#bc8f8f" stroke-width="0.9" fill="none" stroke-opacity="0.75"/><circle cx="570.9" cy="290.6" r="2.8" fill="#bc8f8f"/><path clip-path="url(#ic)" d="M583.9 287.2V294.2M581.5 287.2h4.8M581.5 294.2h4.8" stroke="#bc8f8f" stroke-width="0.9" fill="none" stroke-opacity="0.75"/><circle cx="583.9" cy="290.7" r="2.8" fill="#bc8f8f"/><path clip-path="url(#ic)" d="M312.3 277.5V288.3M309.9 277.5h4.8M309.9 288.3h4.8" stroke="#9400d3" stroke-width="0.9" fill="none" stroke-opacity="0.75"/><circle cx="312.3" cy="282.9" r="2.8" fill="#9400d3"/><path clip-path="url(#ic)" d="M340.8 283.0V291.0M338.4 283.0h4.8M338.4 291.0h4.8" stroke="#9400d3" stroke-width="0.9" fill="none" stroke-opacity="0.75"/><circle cx="340.8" cy="287.0" r="2.8" fill="#9400d3"/><path clip-path="url(#ic)" d="M354.3 283.0V291.0M351.9 283.0h4.8M351.9 291.0h4.8" stroke="#9400d3" stroke-width="0.9" fill="none" stroke-opacity="0.75"/><circle cx="354.3" cy="287.0" r="2.8" fill="#9400d3"/><path clip-path="url(#ic)" d="M369.2 281.5V289.5M366.8 281.5h4.8M366.8 289.5h4.8" stroke="#9400d3" stroke-width="0.9" fill="none" stroke-opacity="0.75"/><circle cx="369.2" cy="285.5" r="2.8" fill="#9400d3"/><path clip-path="url(#ic)" d="M411.0 281.1V289.1M408.6 281.1h4.8M408.6 289.1h4.8" stroke="#9400d3" stroke-width="0.9" fill="none" stroke-opacity="0.75"/><circle cx="411.0" cy="285.1" r="2.8" fill="#9400d3"/><path clip-path="url(#ic)" d="M425.7 280.8V288.8M423.3 280.8h4.8M423.3 288.8h4.8" stroke="#9400d3" stroke-width="0.9" fill="none" stroke-opacity="0.75"/><circle cx="425.7" cy="284.8" r="2.8" fill="#9400d3"/><path clip-path="url(#ic)" d="M439.5 285.9V293.9M437.1 285.9h4.8M437.1 293.9h4.8" stroke="#9400d3" stroke-width="0.9" fill="none" stroke-opacity="0.75"/><circle cx="439.5" cy="289.9" r="2.8" fill="#9400d3"/><path clip-path="url(#ic)" d="M453.0 282.6V290.6M450.6 282.6h4.8M450.6 290.6h4.8" stroke="#9400d3" stroke-width="0.9" fill="none" stroke-opacity="0.75"/><circle cx="453.0" cy="286.6" r="2.8" fill="#9400d3"/><path clip-path="url(#ic)" d="M465.0 282.6V290.6M462.6 282.6h4.8M462.6 290.6h4.8" stroke="#9400d3" stroke-width="0.9" fill="none" stroke-opacity="0.75"/><circle cx="465.0" cy="286.6" r="2.8" fill="#9400d3"/><path clip-path="url(#ic)" d="M480.4 275.2V283.2M478.0 275.2h4.8M478.0 283.2h4.8" stroke="#9400d3" stroke-width="0.9" fill="none" stroke-opacity="0.75"/><circle cx="480.4" cy="279.2" r="2.8" fill="#9400d3"/><path clip-path="url(#ic)" d="M495.0 288.8V296.8M492.6 288.8h4.8M492.6 296.8h4.8" stroke="#9400d3" stroke-width="0.9" fill="none" stroke-opacity="0.75"/><circle cx="495.0" cy="292.8" r="2.8" fill="#9400d3"/><path clip-path="url(#ic)" d="M512.8 283.0V291.0M510.4 283.0h4.8M510.4 291.0h4.8" stroke="#9400d3" stroke-width="0.9" fill="none" stroke-opacity="0.75"/><circle cx="512.8" cy="287.0" r="2.8" fill="#9400d3"/><path clip-path="url(#ic)" d="M529.3 292.3V301.3M526.9 292.3h4.8M526.9 301.3h4.8" stroke="#9400d3" stroke-width="0.9" fill="none" stroke-opacity="0.75"/><circle cx="529.3" cy="296.8" r="2.8" fill="#9400d3"/><path clip-path="url(#ic)" d="M543.0 285.7V294.7M540.6 285.7h4.8M540.6 294.7h4.8" stroke="#9400d3" stroke-width="0.9" fill="none" stroke-opacity="0.75"/><circle cx="543.0" cy="290.2" r="2.8" fill="#9400d3"/><path clip-path="url(#ic)" d="M558.2 300.4V310.4M555.8 300.4h4.8M555.8 310.4h4.8" stroke="#9400d3" stroke-width="0.9" fill="none" stroke-opacity="0.75"/><circle cx="558.2" cy="305.4" r="2.8" fill="#9400d3"/><path clip-path="url(#ic)" d="M570.9 304.8V314.8M568.5 304.8h4.8M568.5 314.8h4.8" stroke="#9400d3" stroke-width="0.9" fill="none" stroke-opacity="0.75"/><circle cx="570.9" cy="309.8" r="2.8" fill="#9400d3"/><path clip-path="url(#ic)" d="M585.0 299.5V311.5M582.6 299.5h4.8M582.6 311.5h4.8" stroke="#9400d3" stroke-width="0.9" fill="none" stroke-opacity="0.75"/><circle cx="585.0" cy="305.5" r="2.8" fill="#9400d3"/><path clip-path="url(#ic)" d="M397.2 290.0V300.0M394.8 290.0h4.8M394.8 300.0h4.8" stroke="#00ffff" stroke-width="0.9" fill="none" stroke-opacity="0.75"/><circle cx="397.2" cy="295.0" r="2.8" fill="#00ffff"/><path clip-path="url(#ic)" d="M410.5 288.0V298.0M408.1 288.0h4.8M408.1 298.0h4.8" stroke="#00ffff" stroke-width="0.9" fill="none" stroke-opacity="0.75"/><circle cx="410.5" cy="293.0" r="2.8" fill="#00ffff"/><path clip-path="url(#ic)" d="M425.8 292.4V302.4M423.4 292.4h4.8M423.4 302.4h4.8" stroke="#00ffff" stroke-width="0.9" fill="none" stroke-opacity="0.75"/><circle cx="425.8" cy="297.4" r="2.8" fill="#00ffff"/><path clip-path="url(#ic)" d="M439.1 289.7V299.7M436.7 289.7h4.8M436.7 299.7h4.8" stroke="#00ffff" stroke-width="0.9" fill="none" stroke-opacity="0.75"/><circle cx="439.1" cy="294.7" r="2.8" fill="#00ffff"/><path clip-path="url(#ic)" d="M452.7 292.7V302.7M450.3 292.7h4.8M450.3 302.7h4.8" stroke="#00ffff" stroke-width="0.9" fill="none" stroke-opacity="0.75"/><circle cx="452.7" cy="297.7" r="2.8" fill="#00ffff"/><path clip-path="url(#ic)" d="M465.0 289.0V299.0M462.6 289.0h4.8M462.6 299.0h4.8" stroke="#00ffff" stroke-width="0.9" fill="none" stroke-opacity="0.75"/><circle cx="465.0" cy="294.0" r="2.8" fill="#00ffff"/><path clip-path="url(#ic)" d="M480.7 298.5V308.5M478.3 298.5h4.8M478.3 308.5h4.8" stroke="#00ffff" stroke-width="0.9" fill="none" stroke-opacity="0.75"/><circle cx="480.7" cy="303.5" r="2.8" fill="#00ffff"/><path clip-path="url(#ic)" d="M495.3 298.1V308.1M492.9 298.1h4.8M492.9 308.1h4.8" stroke="#00ffff" stroke-width="0.9" fill="none" stroke-opacity="0.75"/><circle cx="495.3" cy="303.1" r="2.8" fill="#00ffff"/><path clip-path="url(#ic)" d="M512.8 304.9V315.9M510.4 304.9h4.8M510.4 315.9h4.8" stroke="#00ffff" stroke-width="0.9" fill="none" stroke-opacity="0.75"/><circle cx="512.8" cy="310.4" r="2.8" fill="#00ffff"/><path clip-path="url(#ic)" d="M529.3 301.5V312.5M526.9 301.5h4.8M526.9 312.5h4.8" stroke="#00ffff" stroke-width="0.9" fill="none" stroke-opacity="0.75"/><circle cx="529.3" cy="307.0" r="2.8" fill="#00ffff"/><path clip-path="url(#ic)" d="M543.0 316.0V327.0M540.6 316.0h4.8M540.6 327.0h4.8" stroke="#00ffff" stroke-width="0.9" fill="none" stroke-opacity="0.75"/><circle cx="543.0" cy="321.5" r="2.8" fill="#00ffff"/><path clip-path="url(#ic)" d="M558.1 311.7V323.7M555.7 311.7h4.8M555.7 323.7h4.8" stroke="#00ffff" stroke-width="0.9" fill="none" stroke-opacity="0.75"/><circle cx="558.1" cy="317.7" r="2.8" fill="#00ffff"/><path clip-path="url(#ic)" d="M570.8 308.0V320.0M568.4 308.0h4.8M568.4 320.0h4.8" stroke="#00ffff" stroke-width="0.9" fill="none" stroke-opacity="0.75"/><circle cx="570.8" cy="314.0" r="2.8" fill="#00ffff"/><path clip-path="url(#ic)" d="M582.9 324.9V336.9M580.5 324.9h4.8M580.5 336.9h4.8" stroke="#00ffff" stroke-width="0.9" fill="none" stroke-opacity="0.75"/><circle cx="582.9" cy="330.9" r="2.8" fill="#00ffff"/><path clip-path="url(#ic)" d="M368.9 299.7V316.3M366.5 299.7h4.8M366.5 316.3h4.8" stroke="#ff00ff" stroke-width="0.9" fill="none" stroke-opacity="0.75"/><circle cx="368.9" cy="308.0" r="2.8" fill="#ff00ff"/><path clip-path="url(#ic)" d="M382.2 301.0V316.0M379.8 301.0h4.8M379.8 316.0h4.8" stroke="#ff00ff" stroke-width="0.9" fill="none" stroke-opacity="0.75"/><circle cx="382.2" cy="308.5" r="2.8" fill="#ff00ff"/><path clip-path="url(#ic)" d="M410.2 297.0V312.0M407.8 297.0h4.8M407.8 312.0h4.8" stroke="#ff00ff" stroke-width="0.9" fill="none" stroke-opacity="0.75"/><circle cx="410.2" cy="304.5" r="2.8" fill="#ff00ff"/><path clip-path="url(#ic)" d="M438.7 299.9V314.9M436.3 299.9h4.8M436.3 314.9h4.8" stroke="#ff00ff" stroke-width="0.9" fill="none" stroke-opacity="0.75"/><circle cx="438.7" cy="307.4" r="2.8" fill="#ff00ff"/><path clip-path="url(#ic)" d="M452.7 290.7V305.7M450.3 290.7h4.8M450.3 305.7h4.8" stroke="#ff00ff" stroke-width="0.9" fill="none" stroke-opacity="0.75"/><circle cx="452.7" cy="298.2" r="2.8" fill="#ff00ff"/><path clip-path="url(#ic)" d="M464.8 302.1V317.1M462.4 302.1h4.8M462.4 317.1h4.8" stroke="#ff00ff" stroke-width="0.9" fill="none" stroke-opacity="0.75"/><circle cx="464.8" cy="309.6" r="2.8" fill="#ff00ff"/><path clip-path="url(#ic)" d="M480.7 306.2V321.2M478.3 306.2h4.8M478.3 321.2h4.8" stroke="#ff00ff" stroke-width="0.9" fill="none" stroke-opacity="0.75"/><circle cx="480.7" cy="313.7" r="2.8" fill="#ff00ff"/><path clip-path="url(#ic)" d="M495.0 306.2V321.2M492.6 306.2h4.8M492.6 321.2h4.8" stroke="#ff00ff" stroke-width="0.9" fill="none" stroke-opacity="0.75"/><circle cx="495.0" cy="313.7" r="2.8" fill="#ff00ff"/><path clip-path="url(#ic)" d="M512.8 307.5V323.5M510.4 307.5h4.8M510.4 323.5h4.8" stroke="#ff00ff" stroke-width="0.9" fill="none" stroke-opacity="0.75"/><circle cx="512.8" cy="315.5" r="2.8" fill="#ff00ff"/><path clip-path="url(#ic)" d="M529.0 321.4V339.4M526.6 321.4h4.8M526.6 339.4h4.8" stroke="#ff00ff" stroke-width="0.9" fill="none" stroke-opacity="0.75"/><circle cx="529.0" cy="330.4" r="2.8" fill="#ff00ff"/><path clip-path="url(#ic)" d="M543.0 312.8V330.8M540.6 312.8h4.8M540.6 330.8h4.8" stroke="#ff00ff" stroke-width="0.9" fill="none" stroke-opacity="0.75"/><circle cx="543.0" cy="321.8" r="2.8" fill="#ff00ff"/><path clip-path="url(#ic)" d="M558.2 312.3V330.3M555.8 312.3h4.8M555.8 330.3h4.8" stroke="#ff00ff" stroke-width="0.9" fill="none" stroke-opacity="0.75"/><circle cx="558.2" cy="321.3" r="2.8" fill="#ff00ff"/><path clip-path="url(#ic)" d="M570.2 324.8V344.8M567.8 324.8h4.8M567.8 344.8h4.8" stroke="#ff00ff" stroke-width="0.9" fill="none" stroke-opacity="0.75"/><circle cx="570.2" cy="334.8" r="2.8" fill="#ff00ff"/><path clip-path="url(#ic)" d="M582.9 328.8V358.8M580.5 328.8h4.8M580.5 358.8h4.8" stroke="#ff00ff" stroke-width="0.9" fill="none" stroke-opacity="0.75"/><circle cx="582.9" cy="343.8" r="2.8" fill="#ff00ff"/><path clip-path="url(#ic)" d="M397.2 303.4V325.4M394.8 303.4h4.8M394.8 325.4h4.8" stroke="#ffa500" stroke-width="0.9" fill="none" stroke-opacity="0.75"/><circle cx="397.2" cy="314.4" r="2.8" fill="#ffa500"/><path clip-path="url(#ic)" d="M410.4 308.5V328.5M408.0 308.5h4.8M408.0 328.5h4.8" stroke="#ffa500" stroke-width="0.9" fill="none" stroke-opacity="0.75"/><circle cx="410.4" cy="318.5" r="2.8" fill="#ffa500"/><path clip-path="url(#ic)" d="M425.8 308.0V330.4M423.4 308.0h4.8M423.4 330.4h4.8" stroke="#ffa500" stroke-width="0.9" fill="none" stroke-opacity="0.75"/><circle cx="425.8" cy="319.2" r="2.8" fill="#ffa500"/><path clip-path="url(#ic)" d="M438.5 308.6V330.6M436.1 308.6h4.8M436.1 330.6h4.8" stroke="#ffa500" stroke-width="0.9" fill="none" stroke-opacity="0.75"/><circle cx="438.5" cy="319.6" r="2.8" fill="#ffa500"/><path clip-path="url(#ic)" d="M452.7 315.4V337.4M450.3 315.4h4.8M450.3 337.4h4.8" stroke="#ffa500" stroke-width="0.9" fill="none" stroke-opacity="0.75"/><circle cx="452.7" cy="326.4" r="2.8" fill="#ffa500"/><path clip-path="url(#ic)" d="M464.3 310.6V332.6M461.9 310.6h4.8M461.9 332.6h4.8" stroke="#ffa500" stroke-width="0.9" fill="none" stroke-opacity="0.75"/><circle cx="464.3" cy="321.6" r="2.8" fill="#ffa500"/><path clip-path="url(#ic)" d="M480.8 317.0V339.0M478.4 317.0h4.8M478.4 339.0h4.8" stroke="#ffa500" stroke-width="0.9" fill="none" stroke-opacity="0.75"/><circle cx="480.8" cy="328.0" r="2.8" fill="#ffa500"/><path clip-path="url(#ic)" d="M494.8 319.3V338.3M492.4 319.3h4.8M492.4 338.3h4.8" stroke="#ffa500" stroke-width="0.9" fill="none" stroke-opacity="0.75"/><circle cx="494.8" cy="328.8" r="2.8" fill="#ffa500"/><path clip-path="url(#ic)" d="M512.1 325.2V345.2M509.7 325.2h4.8M509.7 345.2h4.8" stroke="#ffa500" stroke-width="0.9" fill="none" stroke-opacity="0.75"/><circle cx="512.1" cy="335.2" r="2.8" fill="#ffa500"/><path clip-path="url(#ic)" d="M529.0 323.9V349.9M526.6 323.9h4.8M526.6 349.9h4.8" stroke="#ffa500" stroke-width="0.9" fill="none" stroke-opacity="0.75"/><circle cx="529.0" cy="336.9" r="2.8" fill="#ffa500"/><path clip-path="url(#ic)" d="M557.8 329.4V359.4M555.4 329.4h4.8M555.4 359.4h4.8" stroke="#ffa500" stroke-width="0.9" fill="none" stroke-opacity="0.75"/><circle cx="557.8" cy="344.4" r="2.8" fill="#ffa500"/><path clip-path="url(#ic)" d="M570.1 335.2V370.6M567.7 335.2h4.8M567.7 370.6h4.8" stroke="#ffa500" stroke-width="0.9" fill="none" stroke-opacity="0.75"/><circle cx="570.1" cy="352.9" r="2.8" fill="#ffa500"/><path clip-path="url(#ic)" d="M438.3 316.7V346.7M435.9 316.7h4.8M435.9 346.7h4.8" stroke="#670748" stroke-width="0.9" fill="none" stroke-opacity="0.75"/><circle cx="438.3" cy="331.7" r="2.8" fill="#670748"/><path clip-path="url(#ic)" d="M452.0 322.3V357.7M449.6 322.3h4.8M449.6 357.7h4.8" stroke="#670748" stroke-width="0.9" fill="none" stroke-opacity="0.75"/><circle cx="452.0" cy="340.0" r="2.8" fill="#670748"/><path clip-path="url(#ic)" d="M494.8 324.6V353.2M492.4 324.6h4.8M492.4 353.2h4.8" stroke="#670748" stroke-width="0.9" fill="none" stroke-opacity="0.75"/><circle cx="494.8" cy="338.9" r="2.8" fill="#670748"/><path clip-path="url(#ic)" d="M512.6 338.5V370.5M510.2 338.5h4.8M510.2 370.5h4.8" stroke="#670748" stroke-width="0.9" fill="none" stroke-opacity="0.75"/><circle cx="512.6" cy="354.5" r="2.8" fill="#670748"/><path clip-path="url(#ic)" d="M529.0 312.7V370.7M526.6 312.7h4.8M526.6 370.7h4.8" stroke="#670748" stroke-width="0.9" fill="none" stroke-opacity="0.75"/><circle cx="529.0" cy="341.7" r="2.8" fill="#670748"/><path clip-path="url(#ic)" d="M542.9 328.6V371.4M540.5 328.6h4.8M540.5 371.4h4.8" stroke="#670748" stroke-width="0.9" fill="none" stroke-opacity="0.75"/><circle cx="542.9" cy="350.0" r="2.8" fill="#670748"/><path clip-path="url(#ic)" d="M557.8 331.4V381.4M555.4 331.4h4.8M555.4 381.4h4.8" stroke="#670748" stroke-width="0.9" fill="none" stroke-opacity="0.75"/><circle cx="557.8" cy="356.4" r="2.8" fill="#670748"/><path clip-path="url(#ic)" d="M569.6 328.7V386.7M567.2 328.7h4.8M567.2 386.7h4.8" stroke="#670748" stroke-width="0.9" fill="none" stroke-opacity="0.75"/><circle cx="569.6" cy="357.7" r="2.8" fill="#670748"/><path clip-path="url(#ic)" d="M580.5 332.7V414.7M578.1 332.7h4.8M578.1 414.7h4.8" stroke="#670748" stroke-width="0.9" fill="none" stroke-opacity="0.75"/><circle cx="580.5" cy="373.7" r="2.8" fill="#670748"/></g><path d="M312.3 219.2 L318.8 219.2 L325.2 219.3 L331.7 219.3 L338.2 219.3 L344.6 219.3 L351.1 219.4 L357.5 219.4 L364.0 219.4 L370.5 219.5 L376.9 219.5 L383.4 219.5 L389.9 219.6 L396.3 219.6 L402.8 219.7 L409.2 219.8 L415.7 219.9 L422.2 219.9 L428.6 220.0 L435.1 220.1 L441.6 220.3 L448.0 220.4 L454.5 220.5 L461.0 220.7 L467.4 220.8 L473.9 221.0 L480.3 221.3 L486.8 221.5 L493.3 221.7 L499.7 222.0 L506.2 222.4 L512.7 222.7 L519.1 223.1 L525.6 223.5 L532.1 224.0 L538.5 224.5 L545.0 225.1 L551.4 225.8 L557.9 226.5 L564.4 227.3 L570.8 228.2 L577.3 229.1 L583.8 230.2 L590.2 231.4 L596.7 232.7 L603.1 234.1 L609.6 235.7 L616.1 237.4 L622.5 239.3 L629.0 241.4" stroke="#222222" stroke-width="0.9" fill="none"/><path d="M312.3 233.4 L318.8 233.4 L325.2 233.4 L331.7 233.4 L338.1 233.5 L344.6 233.5 L351.0 233.5 L357.5 233.5 L363.9 233.5 L370.4 233.6 L376.9 233.6 L383.3 233.6 L389.8 233.7 L396.2 233.7 L402.7 233.8 L409.1 233.8 L415.6 233.9 L422.0 234.0 L428.5 234.0 L434.9 234.1 L441.4 234.2 L447.9 234.3 L454.3 234.5 L460.8 234.6 L467.2 234.8 L473.7 234.9 L480.1 235.1 L486.6 235.3 L493.0 235.6 L499.5 235.8 L506.0 236.1 L512.4 236.5 L518.9 236.8 L525.3 237.2 L531.8 237.7 L538.2 238.2 L544.7 238.8 L551.1 239.4 L557.6 240.1 L564.0 240.9 L570.5 241.8 L577.0 242.8 L583.4 243.9 L589.9 245.1 L596.3 246.5 L602.8 248.0 L609.2 249.7 L615.7 251.5 L622.1 253.6 L628.6 255.9" stroke="#b52a2a" stroke-width="0.9" fill="none"/><path d="M312.3 247.2 L318.4 247.2 L324.4 247.2 L330.5 247.2 L336.5 247.2 L342.6 247.3 L348.6 247.3 L354.7 247.3 L360.8 247.3 L366.8 247.4 L372.9 247.4 L378.9 247.4 L385.0 247.5 L391.0 247.5 L397.1 247.6 L403.2 247.6 L409.2 247.7 L415.3 247.7 L421.3 247.8 L427.4 247.9 L433.4 248.0 L439.5 248.1 L445.6 248.2 L451.6 248.3 L457.7 248.4 L463.7 248.5 L469.8 248.7 L475.8 248.9 L481.9 249.0 L488.0 249.2 L494.0 249.5 L500.1 249.7 L506.1 250.0 L512.2 250.3 L518.2 250.6 L524.3 251.0 L530.4 251.4 L536.4 251.8 L542.5 252.3 L548.5 252.8 L554.6 253.4 L560.6 254.0 L566.7 254.7 L572.8 255.4 L578.8 256.3 L584.9 257.2 L590.9 258.2 L597.0 259.3 L603.0 260.5 L609.1 261.8" stroke="#3fd03f" stroke-width="0.9" fill="none"/><path d="M312.3 260.3 L318.4 260.3 L324.4 260.3 L330.5 260.4 L336.5 260.4 L342.6 260.4 L348.7 260.4 L354.7 260.4 L360.8 260.5 L366.8 260.5 L372.9 260.5 L379.0 260.6 L385.0 260.6 L391.1 260.7 L397.1 260.7 L403.2 260.8 L409.2 260.8 L415.3 260.9 L421.4 261.0 L427.4 261.0 L433.5 261.1 L439.5 261.2 L445.6 261.3 L451.7 261.4 L457.7 261.6 L463.8 261.7 L469.8 261.8 L475.9 262.0 L482.0 262.2 L488.0 262.4 L494.1 262.6 L500.1 262.9 L506.2 263.1 L512.3 263.4 L518.3 263.8 L524.4 264.1 L530.4 264.5 L536.5 264.9 L542.5 265.4 L548.6 265.9 L554.7 266.5 L560.7 267.1 L566.8 267.8 L572.8 268.5 L578.9 269.4 L585.0 270.3 L591.0 271.3 L597.1 272.4 L603.1 273.5 L609.2 274.8" stroke="#28289a" stroke-width="0.9" fill="none"/><path d="M312.3 270.7 L317.8 270.7 L323.4 270.8 L328.9 270.8 L334.5 270.8 L340.0 270.9 L345.6 270.9 L351.1 271.0 L356.6 271.0 L362.2 271.1 L367.7 271.2 L373.3 271.2 L378.8 271.3 L384.4 271.4 L389.9 271.5 L395.4 271.6 L401.0 271.7 L406.5 271.8 L412.1 271.9 L417.6 272.0 L423.2 272.2 L428.7 272.3 L434.2 272.5 L439.8 272.7 L445.3 272.9 L450.9 273.1 L456.4 273.4 L462.0 273.6 L467.5 273.9 L473.0 274.2 L478.6 274.6 L484.1 274.9 L489.7 275.4 L495.2 275.8 L500.8 276.3 L506.3 276.8 L511.8 277.4 L517.4 278.0 L522.9 278.6 L528.5 279.4 L534.0 280.2 L539.6 281.0 L545.1 281.9 L550.6 283.0 L556.2 284.0 L561.7 285.2 L567.3 286.5 L572.8 287.9 L578.4 289.4 L583.9 291.0" stroke="#b08585" stroke-width="0.9" fill="none"/><path d="M312.3 284.1 L317.9 284.2 L323.4 284.2 L329.0 284.2 L334.6 284.3 L340.1 284.3 L345.7 284.4 L351.3 284.4 L356.8 284.5 L362.4 284.6 L368.0 284.6 L373.5 284.7 L379.1 284.8 L384.6 284.9 L390.2 285.0 L395.8 285.1 L401.3 285.2 L406.9 285.4 L412.5 285.5 L418.0 285.7 L423.6 285.8 L429.2 286.0 L434.7 286.2 L440.3 286.4 L445.9 286.7 L451.4 286.9 L457.0 287.2 L462.6 287.5 L468.1 287.8 L473.7 288.2 L479.3 288.5 L484.8 288.9 L490.4 289.4 L496.0 289.9 L501.5 290.4 L507.1 291.0 L512.7 291.6 L518.2 292.3 L523.8 293.0 L529.3 293.8 L534.9 294.6 L540.5 295.6 L546.0 296.6 L551.6 297.6 L557.2 298.8 L562.7 300.1 L568.3 301.4 L573.9 302.9 L579.4 304.5 L585.0 306.2" stroke="#7d2aa0" stroke-width="0.9" fill="none"/><path d="M397.2 294.3 L401.0 294.5 L404.8 294.6 L408.6 294.8 L412.4 295.0 L416.1 295.2 L419.9 295.4 L423.7 295.6 L427.5 295.8 L431.3 296.0 L435.1 296.3 L438.9 296.5 L442.7 296.8 L446.5 297.1 L450.3 297.4 L454.0 297.7 L457.8 298.1 L461.6 298.4 L465.4 298.8 L469.2 299.2 L473.0 299.7 L476.8 300.1 L480.6 300.6 L484.4 301.1 L488.2 301.7 L491.9 302.2 L495.7 302.8 L499.5 303.5 L503.3 304.2 L507.1 304.9 L510.9 305.6 L514.7 306.4 L518.5 307.2 L522.3 308.1 L526.1 309.1 L529.8 310.0 L533.6 311.1 L537.4 312.2 L541.2 313.3 L545.0 314.5 L548.8 315.8 L552.6 317.1 L556.4 318.5 L560.2 320.0 L564.0 321.6 L567.7 323.2 L571.5 324.9 L575.3 326.7 L579.1 328.6 L582.9 330.6" stroke="#2ad5d5" stroke-width="0.9" fill="none"/><path d="M368.9 305.3 L373.3 305.4 L377.6 305.5 L382.0 305.6 L386.4 305.7 L390.7 305.8 L395.1 305.9 L399.5 306.1 L403.8 306.2 L408.2 306.4 L412.6 306.5 L416.9 306.7 L421.3 306.9 L425.7 307.1 L430.0 307.3 L434.4 307.6 L438.8 307.8 L443.1 308.1 L447.5 308.4 L451.9 308.7 L456.2 309.0 L460.6 309.4 L465.0 309.7 L469.3 310.2 L473.7 310.6 L478.1 311.1 L482.5 311.6 L486.8 312.1 L491.2 312.7 L495.6 313.3 L499.9 314.0 L504.3 314.7 L508.7 315.4 L513.0 316.2 L517.4 317.1 L521.8 318.0 L526.1 319.0 L530.5 320.1 L534.9 321.2 L539.2 322.4 L543.6 323.7 L548.0 325.1 L552.3 326.5 L556.7 328.1 L561.1 329.7 L565.4 331.5 L569.8 333.3 L574.2 335.3 L578.5 337.4 L582.9 339.6" stroke="#d33ad3" stroke-width="0.9" fill="none"/><path d="M397.2 318.2 L400.7 318.4 L404.3 318.6 L407.8 318.8 L411.3 319.0 L414.8 319.2 L418.4 319.4 L421.9 319.6 L425.4 319.9 L429.0 320.1 L432.5 320.4 L436.0 320.7 L439.5 321.0 L443.1 321.3 L446.6 321.6 L450.1 322.0 L453.7 322.4 L457.2 322.8 L460.7 323.2 L464.2 323.6 L467.8 324.1 L471.3 324.5 L474.8 325.0 L478.4 325.6 L481.9 326.1 L485.4 326.7 L488.9 327.3 L492.5 328.0 L496.0 328.6 L499.5 329.3 L503.1 330.1 L506.6 330.9 L510.1 331.7 L513.6 332.6 L517.2 333.5 L520.7 334.4 L524.2 335.4 L527.8 336.4 L531.3 337.5 L534.8 338.7 L538.3 339.9 L541.9 341.1 L545.4 342.4 L548.9 343.8 L552.5 345.2 L556.0 346.7 L559.5 348.3 L563.0 349.9 L566.6 351.6 L570.1 353.4" stroke="#e0a02a" stroke-width="0.9" fill="none"/><path d="M438.3 335.5 L441.2 335.7 L444.1 335.9 L447.0 336.1 L449.9 336.4 L452.8 336.6 L455.7 336.8 L458.6 337.1 L461.5 337.4 L464.4 337.6 L467.3 337.9 L470.2 338.2 L473.1 338.6 L476.0 338.9 L478.9 339.2 L481.8 339.6 L484.7 340.0 L487.6 340.4 L490.5 340.8 L493.4 341.2 L496.3 341.7 L499.2 342.2 L502.1 342.7 L505.0 343.2 L507.9 343.7 L510.9 344.3 L513.8 344.9 L516.7 345.5 L519.6 346.1 L522.5 346.8 L525.4 347.5 L528.3 348.2 L531.2 349.0 L534.1 349.7 L537.0 350.6 L539.9 351.4 L542.8 352.3 L545.7 353.2 L548.6 354.2 L551.5 355.2 L554.4 356.2 L557.3 357.3 L560.2 358.4 L563.1 359.6 L566.0 360.8 L568.9 362.0 L571.8 363.3 L574.7 364.7 L577.6 366.1 L580.5 367.5" stroke="#5a1445" stroke-width="0.9" fill="none"/><path d="M319.0 209.0v3.5M328.1 209.0v3.5M335.5 209.0v3.5M341.8 209.0v3.5M347.3 209.0v3.5M352.1 209.0v3.5M356.4 209.0v7.0M384.8 209.0v3.5M401.4 209.0v3.5M413.1 209.0v3.5M422.3 209.0v3.5M429.7 209.0v3.5M436.0 209.0v3.5M441.5 209.0v3.5M446.3 209.0v3.5M450.6 209.0v7.0M478.9 209.0v3.5M495.5 209.0v3.5M507.3 209.0v3.5M516.4 209.0v3.5M523.9 209.0v3.5M530.2 209.0v3.5M535.6 209.0v3.5M540.5 209.0v3.5M544.8 209.0v7.0M573.1 209.0v3.5M589.7 209.0v3.5M601.5 209.0v3.5M610.6 209.0v3.5M618.0 209.0v3.5M624.4 209.0v3.5M629.8 209.0v3.5M634.6 209.0v3.5M638.9 209.0v7.0M319.0 441.3v-3.5M328.1 441.3v-3.5M335.5 441.3v-3.5M341.8 441.3v-3.5M347.3 441.3v-3.5M352.1 441.3v-3.5M356.4 441.3v-7.0M384.8 441.3v-3.5M401.4 441.3v-3.5M413.1 441.3v-3.5M422.3 441.3v-3.5M429.7 441.3v-3.5M436.0 441.3v-3.5M441.5 441.3v-3.5M446.3 441.3v-3.5M450.6 441.3v-7.0M478.9 441.3v-3.5M495.5 441.3v-3.5M507.3 441.3v-3.5M516.4 441.3v-3.5M523.9 441.3v-3.5M530.2 441.3v-3.5M535.6 441.3v-3.5M540.5 441.3v-3.5M544.8 441.3v-7.0M573.1 441.3v-3.5M589.7 441.3v-3.5M601.5 441.3v-3.5M610.6 441.3v-3.5M618.0 441.3v-3.5M624.4 441.3v-3.5M629.8 441.3v-3.5M634.6 441.3v-3.5M638.9 441.3v-7.0M307.2 441.3h7M655.5 441.3h-7M307.2 427.1h3.5M655.5 427.1h-3.5M307.2 413.0h7M655.5 413.0h-7M307.2 398.8h3.5M655.5 398.8h-3.5M307.2 384.6h7M655.5 384.6h-7M307.2 370.5h3.5M655.5 370.5h-3.5M307.2 356.3h7M655.5 356.3h-7M307.2 342.1h3.5M655.5 342.1h-3.5M307.2 328.0h7M655.5 328.0h-7M307.2 313.8h3.5M655.5 313.8h-3.5M307.2 299.6h7M655.5 299.6h-7M307.2 285.4h3.5M655.5 285.4h-3.5M307.2 271.3h7M655.5 271.3h-7M307.2 257.1h3.5M655.5 257.1h-3.5M307.2 242.9h7M655.5 242.9h-7M307.2 228.8h3.5M655.5 228.8h-3.5M307.2 214.6h7M655.5 214.6h-7" stroke="#333" stroke-width="1" fill="none"/><g font-family="Liberation Serif" font-size="10.5" fill="#000"><text x="303.5" y="445.4" text-anchor="end">0.2</text><text x="303.5" y="417.1" text-anchor="end">0.3</text><text x="303.5" y="388.7" text-anchor="end">0.4</text><text x="303.5" y="360.4" text-anchor="end">0.5</text><text x="303.5" y="332.1" text-anchor="end">0.6</text><text x="303.5" y="303.7" text-anchor="end">0.7</text><text x="303.5" y="275.4" text-anchor="end">0.8</text><text x="303.5" y="247.0" text-anchor="end">0.9</text><text x="303.5" y="218.7" text-anchor="end">1</text><text transform="translate(285.0 325.2) rotate(-90)" text-anchor="middle" font-size="10.4">I (q, t) / I (q, 0)</text></g></svg></body></html>
